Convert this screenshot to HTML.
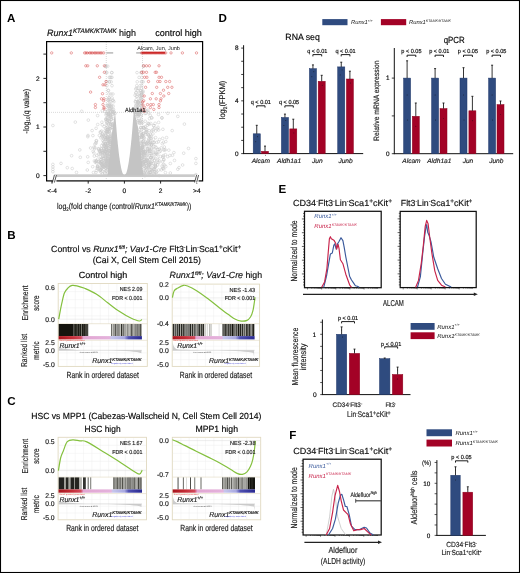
<!DOCTYPE html>
<html><head><meta charset="utf-8"><title>Figure</title>
<style>
html,body{margin:0;padding:0;background:#fff;}
body{width:520px;height:573px;overflow:hidden;}
svg{display:block;will-change:transform;}
text{font-family:"Liberation Sans", sans-serif;text-rendering:geometricPrecision;font-variant-ligatures:none;}
</style></head>
<body>
<svg width="520" height="573" viewBox="0 0 520 573" font-family="Liberation Sans, sans-serif">
<rect x="0" y="0" width="520" height="573" fill="#fff"/>
<text x="6.9" y="21.9" font-size="11.6" font-weight="bold" fill="#000" >A</text>
<text x="47.1" y="35.8" font-size="9.2" fill="#111" textLength="88.9" lengthAdjust="spacingAndGlyphs" stroke="#111" stroke-width="0.16"><tspan font-style="italic">Runx1</tspan><tspan dy="-3.2" font-size="6.4" font-style="italic">KTAMK/KTAMK</tspan><tspan dy="3.2"> high</tspan></text>
<text x="155.2" y="35.6" font-size="9.2" textLength="46.7" lengthAdjust="spacingAndGlyphs"  stroke="#111" stroke-width="0.16">control high</text>
<defs><circle id="gc" r="1.35" fill="none" stroke="#c6c6c6" stroke-width="0.5"/><circle id="rc" r="1.2" fill="none" stroke="#d65050" stroke-width="0.5"/></defs>
<clipPath id="clipA"><rect x="47.2" y="42.2" width="155" height="138"/></clipPath>
<g clip-path="url(#clipA)">
<line x1="106.30000000000001" y1="42" x2="106.30000000000001" y2="180" stroke="#b0b0b0" stroke-width="0.6" stroke-dasharray="0.8 1.2"/>
<line x1="142.5" y1="42" x2="142.5" y2="180" stroke="#b0b0b0" stroke-width="0.6" stroke-dasharray="0.8 1.2"/>
<line x1="47" y1="112.3714" x2="202" y2="112.3714" stroke="#b0b0b0" stroke-width="0.6" stroke-dasharray="0.8 1.2"/>
<use href="#gc" x="104.1" y="126.7"/>
<use href="#gc" x="110.0" y="146.8"/>
<use href="#gc" x="106.2" y="168.0"/>
<use href="#gc" x="141.1" y="132.7"/>
<use href="#gc" x="108.1" y="151.6"/>
<use href="#gc" x="96.9" y="155.3"/>
<use href="#gc" x="146.8" y="142.8"/>
<use href="#gc" x="138.2" y="120.5"/>
<use href="#gc" x="108.2" y="161.0"/>
<use href="#gc" x="158.6" y="122.4"/>
<use href="#gc" x="106.0" y="128.1"/>
<use href="#gc" x="112.4" y="124.5"/>
<use href="#gc" x="110.0" y="121.5"/>
<use href="#gc" x="108.2" y="137.3"/>
<use href="#gc" x="163.4" y="164.5"/>
<use href="#gc" x="101.7" y="163.7"/>
<use href="#gc" x="146.5" y="155.6"/>
<use href="#gc" x="163.8" y="169.0"/>
<use href="#gc" x="110.6" y="138.9"/>
<use href="#gc" x="106.2" y="162.7"/>
<use href="#gc" x="101.9" y="122.2"/>
<use href="#gc" x="96.1" y="128.3"/>
<use href="#gc" x="96.5" y="140.9"/>
<use href="#gc" x="161.2" y="147.9"/>
<use href="#gc" x="108.4" y="160.0"/>
<use href="#gc" x="182.6" y="165.0"/>
<use href="#gc" x="99.0" y="150.2"/>
<use href="#gc" x="147.9" y="172.3"/>
<use href="#gc" x="105.3" y="165.0"/>
<use href="#gc" x="111.3" y="111.3"/>
<use href="#gc" x="162.1" y="166.1"/>
<use href="#gc" x="145.5" y="174.2"/>
<use href="#gc" x="165.4" y="154.7"/>
<use href="#gc" x="143.2" y="127.2"/>
<use href="#gc" x="155.7" y="152.5"/>
<use href="#gc" x="105.7" y="118.9"/>
<use href="#gc" x="151.8" y="149.1"/>
<use href="#gc" x="144.3" y="127.8"/>
<use href="#gc" x="172.4" y="155.3"/>
<use href="#gc" x="105.3" y="144.0"/>
<use href="#gc" x="140.4" y="147.6"/>
<use href="#gc" x="107.7" y="162.3"/>
<use href="#gc" x="155.1" y="146.6"/>
<use href="#gc" x="87.8" y="136.7"/>
<use href="#gc" x="147.4" y="149.1"/>
<use href="#gc" x="157.4" y="128.9"/>
<use href="#gc" x="108.0" y="154.9"/>
<use href="#gc" x="163.6" y="160.1"/>
<use href="#gc" x="144.5" y="168.7"/>
<use href="#gc" x="146.2" y="160.3"/>
<use href="#gc" x="107.2" y="154.7"/>
<use href="#gc" x="106.2" y="146.9"/>
<use href="#gc" x="142.6" y="122.6"/>
<use href="#gc" x="148.6" y="173.0"/>
<use href="#gc" x="145.4" y="161.6"/>
<use href="#gc" x="165.4" y="149.8"/>
<use href="#gc" x="154.0" y="125.7"/>
<use href="#gc" x="147.9" y="150.9"/>
<use href="#gc" x="139.3" y="113.6"/>
<use href="#gc" x="143.7" y="133.5"/>
<use href="#gc" x="81.7" y="111.3"/>
<use href="#gc" x="110.8" y="119.5"/>
<use href="#gc" x="108.4" y="150.6"/>
<use href="#gc" x="139.3" y="137.1"/>
<use href="#gc" x="97.8" y="166.4"/>
<use href="#gc" x="137.3" y="113.5"/>
<use href="#gc" x="145.7" y="163.4"/>
<use href="#gc" x="152.9" y="133.9"/>
<use href="#gc" x="102.7" y="133.8"/>
<use href="#gc" x="157.5" y="149.6"/>
<use href="#gc" x="151.0" y="148.0"/>
<use href="#gc" x="109.8" y="138.7"/>
<use href="#gc" x="160.4" y="151.1"/>
<use href="#gc" x="104.3" y="166.6"/>
<use href="#gc" x="144.4" y="144.3"/>
<use href="#gc" x="151.0" y="138.4"/>
<use href="#gc" x="105.2" y="143.9"/>
<use href="#gc" x="101.0" y="167.5"/>
<use href="#gc" x="105.1" y="151.5"/>
<use href="#gc" x="148.7" y="164.0"/>
<use href="#gc" x="142.8" y="133.3"/>
<use href="#gc" x="140.7" y="116.4"/>
<use href="#gc" x="101.4" y="161.3"/>
<use href="#gc" x="106.8" y="158.6"/>
<use href="#gc" x="150.4" y="137.7"/>
<use href="#gc" x="94.9" y="144.1"/>
<use href="#gc" x="173.9" y="152.6"/>
<use href="#gc" x="108.0" y="167.4"/>
<use href="#gc" x="143.0" y="149.8"/>
<use href="#gc" x="141.3" y="114.8"/>
<use href="#gc" x="107.2" y="145.3"/>
<use href="#gc" x="149.3" y="148.2"/>
<use href="#gc" x="142.7" y="163.7"/>
<use href="#gc" x="103.2" y="152.3"/>
<use href="#gc" x="153.4" y="129.4"/>
<use href="#gc" x="151.9" y="118.0"/>
<use href="#gc" x="110.1" y="126.8"/>
<use href="#gc" x="158.7" y="130.0"/>
<use href="#gc" x="145.2" y="141.9"/>
<use href="#gc" x="104.3" y="146.4"/>
<use href="#gc" x="107.5" y="131.9"/>
<use href="#gc" x="145.9" y="110.6"/>
<use href="#gc" x="147.0" y="111.3"/>
<use href="#gc" x="100.8" y="169.9"/>
<use href="#gc" x="88.2" y="162.4"/>
<use href="#gc" x="139.1" y="114.2"/>
<use href="#gc" x="188.5" y="148.4"/>
<use href="#gc" x="104.2" y="165.2"/>
<use href="#gc" x="149.2" y="124.2"/>
<use href="#gc" x="109.1" y="145.6"/>
<use href="#gc" x="109.3" y="156.2"/>
<use href="#gc" x="104.7" y="150.0"/>
<use href="#gc" x="177.8" y="116.4"/>
<use href="#gc" x="107.2" y="119.9"/>
<use href="#gc" x="154.6" y="128.2"/>
<use href="#gc" x="142.4" y="147.1"/>
<use href="#gc" x="100.8" y="151.6"/>
<use href="#gc" x="106.8" y="149.1"/>
<use href="#gc" x="137.4" y="112.9"/>
<use href="#gc" x="108.5" y="124.1"/>
<use href="#gc" x="103.0" y="144.0"/>
<use href="#gc" x="158.7" y="162.5"/>
<use href="#gc" x="144.4" y="173.0"/>
<use href="#gc" x="150.1" y="151.0"/>
<use href="#gc" x="106.0" y="139.5"/>
<use href="#gc" x="96.3" y="140.6"/>
<use href="#gc" x="111.0" y="136.4"/>
<use href="#gc" x="107.1" y="136.4"/>
<use href="#gc" x="141.5" y="154.3"/>
<use href="#gc" x="67.3" y="167.7"/>
<use href="#gc" x="107.9" y="150.0"/>
<use href="#gc" x="149.1" y="163.7"/>
<use href="#gc" x="110.2" y="141.7"/>
<use href="#gc" x="106.3" y="151.6"/>
<use href="#gc" x="158.0" y="127.3"/>
<use href="#gc" x="146.7" y="160.0"/>
<use href="#gc" x="147.3" y="159.3"/>
<use href="#gc" x="103.8" y="164.3"/>
<use href="#gc" x="145.6" y="134.5"/>
<use href="#gc" x="156.7" y="171.8"/>
<use href="#gc" x="137.5" y="121.1"/>
<use href="#gc" x="145.9" y="170.1"/>
<use href="#gc" x="152.0" y="170.0"/>
<use href="#gc" x="170.3" y="163.5"/>
<use href="#gc" x="153.8" y="149.7"/>
<use href="#gc" x="142.3" y="142.0"/>
<use href="#gc" x="148.8" y="135.2"/>
<use href="#gc" x="148.9" y="112.8"/>
<use href="#gc" x="141.3" y="123.0"/>
<use href="#gc" x="143.1" y="151.0"/>
<use href="#gc" x="94.4" y="160.9"/>
<use href="#gc" x="111.1" y="124.7"/>
<use href="#gc" x="101.7" y="149.0"/>
<use href="#gc" x="107.9" y="162.9"/>
<use href="#gc" x="149.3" y="164.7"/>
<use href="#gc" x="101.9" y="135.9"/>
<use href="#gc" x="97.6" y="115.6"/>
<use href="#gc" x="158.7" y="170.0"/>
<use href="#gc" x="145.0" y="151.6"/>
<use href="#gc" x="170.3" y="173.0"/>
<use href="#gc" x="110.3" y="128.8"/>
<use href="#gc" x="108.9" y="131.9"/>
<use href="#gc" x="150.5" y="158.1"/>
<use href="#gc" x="88.3" y="120.1"/>
<use href="#gc" x="103.7" y="142.2"/>
<use href="#gc" x="139.9" y="132.9"/>
<use href="#gc" x="140.9" y="127.5"/>
<use href="#gc" x="155.5" y="165.6"/>
<use href="#gc" x="97.9" y="168.6"/>
<use href="#gc" x="105.9" y="168.7"/>
<use href="#gc" x="145.2" y="121.2"/>
<use href="#gc" x="141.2" y="150.0"/>
<use href="#gc" x="109.4" y="123.1"/>
<use href="#gc" x="105.3" y="160.7"/>
<use href="#gc" x="108.4" y="158.8"/>
<use href="#gc" x="147.7" y="141.8"/>
<use href="#gc" x="148.6" y="166.1"/>
<use href="#gc" x="102.6" y="134.4"/>
<use href="#gc" x="106.2" y="165.6"/>
<use href="#gc" x="142.7" y="152.3"/>
<use href="#gc" x="141.9" y="150.3"/>
<use href="#gc" x="112.2" y="111.2"/>
<use href="#gc" x="150.5" y="174.4"/>
<use href="#gc" x="101.9" y="152.4"/>
<use href="#gc" x="164.7" y="165.2"/>
<use href="#gc" x="103.6" y="166.1"/>
<use href="#gc" x="156.7" y="142.3"/>
<use href="#gc" x="163.2" y="168.3"/>
<use href="#gc" x="156.6" y="154.0"/>
<use href="#gc" x="92.7" y="166.7"/>
<use href="#gc" x="164.3" y="150.1"/>
<use href="#gc" x="179.0" y="167.6"/>
<use href="#gc" x="106.9" y="159.8"/>
<use href="#gc" x="148.0" y="171.1"/>
<use href="#gc" x="145.6" y="132.4"/>
<use href="#gc" x="102.2" y="136.8"/>
<use href="#gc" x="104.6" y="166.1"/>
<use href="#gc" x="142.9" y="149.8"/>
<use href="#gc" x="151.8" y="144.7"/>
<use href="#gc" x="143.3" y="147.1"/>
<use href="#gc" x="162.3" y="143.7"/>
<use href="#gc" x="79.8" y="149.9"/>
<use href="#gc" x="144.3" y="155.6"/>
<use href="#gc" x="140.8" y="127.6"/>
<use href="#gc" x="147.4" y="148.6"/>
<use href="#gc" x="149.7" y="169.8"/>
<use href="#gc" x="142.0" y="160.4"/>
<use href="#gc" x="146.7" y="131.9"/>
<use href="#gc" x="96.0" y="161.0"/>
<use href="#gc" x="102.4" y="167.5"/>
<use href="#gc" x="143.4" y="162.6"/>
<use href="#gc" x="143.4" y="149.5"/>
<use href="#gc" x="152.0" y="171.1"/>
<use href="#gc" x="149.9" y="144.6"/>
<use href="#gc" x="110.1" y="116.8"/>
<use href="#gc" x="155.7" y="131.0"/>
<use href="#gc" x="100.5" y="163.0"/>
<use href="#gc" x="141.4" y="129.1"/>
<use href="#gc" x="148.1" y="143.4"/>
<use href="#gc" x="110.0" y="142.6"/>
<use href="#gc" x="103.9" y="145.1"/>
<use href="#gc" x="151.6" y="163.2"/>
<use href="#gc" x="163.2" y="157.4"/>
<use href="#gc" x="99.9" y="151.5"/>
<use href="#gc" x="157.1" y="162.4"/>
<use href="#gc" x="145.7" y="161.4"/>
<use href="#gc" x="102.3" y="110.8"/>
<use href="#gc" x="108.3" y="142.8"/>
<use href="#gc" x="143.0" y="152.0"/>
<use href="#gc" x="149.1" y="130.7"/>
<use href="#gc" x="144.4" y="138.4"/>
<use href="#gc" x="110.3" y="124.0"/>
<use href="#gc" x="106.8" y="163.4"/>
<use href="#gc" x="139.2" y="138.0"/>
<use href="#gc" x="101.1" y="172.2"/>
<use href="#gc" x="99.9" y="170.8"/>
<use href="#gc" x="143.9" y="137.6"/>
<use href="#gc" x="105.9" y="147.3"/>
<use href="#gc" x="101.5" y="168.1"/>
<use href="#gc" x="109.2" y="121.1"/>
<use href="#gc" x="107.3" y="158.3"/>
<use href="#gc" x="136.5" y="110.9"/>
<use href="#gc" x="104.7" y="173.0"/>
<use href="#gc" x="107.1" y="155.9"/>
<use href="#gc" x="112.3" y="125.5"/>
<use href="#gc" x="157.5" y="154.4"/>
<use href="#gc" x="107.0" y="118.3"/>
<use href="#gc" x="143.8" y="159.1"/>
<use href="#gc" x="152.0" y="130.4"/>
<use href="#gc" x="101.0" y="161.5"/>
<use href="#gc" x="106.7" y="165.4"/>
<use href="#gc" x="106.0" y="114.9"/>
<use href="#gc" x="144.5" y="157.6"/>
<use href="#gc" x="102.6" y="164.8"/>
<use href="#gc" x="110.0" y="128.7"/>
<use href="#gc" x="149.0" y="139.3"/>
<use href="#gc" x="157.9" y="159.8"/>
<use href="#gc" x="104.3" y="141.5"/>
<use href="#gc" x="106.4" y="170.5"/>
<use href="#gc" x="109.0" y="150.9"/>
<use href="#gc" x="143.3" y="141.7"/>
<use href="#gc" x="106.7" y="149.0"/>
<use href="#gc" x="142.3" y="160.9"/>
<use href="#gc" x="106.3" y="138.5"/>
<use href="#gc" x="147.0" y="144.8"/>
<use href="#gc" x="149.5" y="118.6"/>
<use href="#gc" x="149.5" y="155.8"/>
<use href="#gc" x="106.4" y="161.4"/>
<use href="#gc" x="108.2" y="165.3"/>
<use href="#gc" x="105.4" y="165.8"/>
<use href="#gc" x="146.5" y="143.1"/>
<use href="#gc" x="104.0" y="169.7"/>
<use href="#gc" x="149.9" y="159.7"/>
<use href="#gc" x="143.1" y="162.0"/>
<use href="#gc" x="94.9" y="147.6"/>
<use href="#gc" x="147.8" y="134.4"/>
<use href="#gc" x="95.9" y="161.5"/>
<use href="#gc" x="148.5" y="166.3"/>
<use href="#gc" x="111.8" y="119.2"/>
<use href="#gc" x="149.4" y="174.8"/>
<use href="#gc" x="101.0" y="153.1"/>
<use href="#gc" x="139.7" y="112.0"/>
<use href="#gc" x="106.2" y="155.0"/>
<use href="#gc" x="155.2" y="165.1"/>
<use href="#gc" x="141.5" y="158.1"/>
<use href="#gc" x="100.9" y="159.7"/>
<use href="#gc" x="154.0" y="169.2"/>
<use href="#gc" x="105.2" y="138.9"/>
<use href="#gc" x="113.2" y="118.5"/>
<use href="#gc" x="150.4" y="142.3"/>
<use href="#gc" x="164.0" y="159.4"/>
<use href="#gc" x="153.9" y="142.8"/>
<use href="#gc" x="145.7" y="167.4"/>
<use href="#gc" x="98.7" y="149.0"/>
<use href="#gc" x="146.0" y="143.8"/>
<use href="#gc" x="149.7" y="172.4"/>
<use href="#gc" x="105.5" y="161.2"/>
<use href="#gc" x="109.8" y="150.9"/>
<use href="#gc" x="107.7" y="137.0"/>
<use href="#gc" x="144.8" y="111.2"/>
<use href="#gc" x="141.1" y="137.1"/>
<use href="#gc" x="144.8" y="153.3"/>
<use href="#gc" x="106.4" y="149.9"/>
<use href="#gc" x="105.5" y="158.2"/>
<use href="#gc" x="108.7" y="129.8"/>
<use href="#gc" x="148.4" y="162.3"/>
<use href="#gc" x="149.7" y="136.6"/>
<use href="#gc" x="151.1" y="157.4"/>
<use href="#gc" x="142.3" y="146.5"/>
<use href="#gc" x="104.2" y="166.9"/>
<use href="#gc" x="105.0" y="155.3"/>
<use href="#gc" x="141.7" y="151.6"/>
<use href="#gc" x="157.9" y="149.4"/>
<use href="#gc" x="150.7" y="123.5"/>
<use href="#gc" x="143.9" y="128.2"/>
<use href="#gc" x="104.5" y="145.5"/>
<use href="#gc" x="105.0" y="152.4"/>
<use href="#gc" x="107.9" y="140.8"/>
<use href="#gc" x="143.9" y="144.2"/>
<use href="#gc" x="105.2" y="173.1"/>
<use href="#gc" x="99.5" y="151.2"/>
<use href="#gc" x="72.2" y="168.5"/>
<use href="#gc" x="107.7" y="161.2"/>
<use href="#gc" x="109.1" y="113.4"/>
<use href="#gc" x="109.0" y="116.2"/>
<use href="#gc" x="156.1" y="147.5"/>
<use href="#gc" x="152.7" y="142.5"/>
<use href="#gc" x="151.3" y="145.0"/>
<use href="#gc" x="108.6" y="148.3"/>
<use href="#gc" x="140.6" y="148.6"/>
<use href="#gc" x="142.4" y="154.1"/>
<use href="#gc" x="159.2" y="149.2"/>
<use href="#gc" x="105.7" y="143.4"/>
<use href="#gc" x="148.0" y="123.3"/>
<use href="#gc" x="138.6" y="131.8"/>
<use href="#gc" x="100.2" y="132.2"/>
<use href="#gc" x="106.0" y="170.8"/>
<use href="#gc" x="106.1" y="119.5"/>
<use href="#gc" x="139.7" y="123.3"/>
<use href="#gc" x="105.8" y="132.3"/>
<use href="#gc" x="80.3" y="157.3"/>
<use href="#gc" x="99.3" y="162.0"/>
<use href="#gc" x="143.4" y="162.7"/>
<use href="#gc" x="109.9" y="146.8"/>
<use href="#gc" x="145.6" y="163.7"/>
<use href="#gc" x="106.3" y="124.7"/>
<use href="#gc" x="112.6" y="114.3"/>
<use href="#gc" x="102.1" y="165.9"/>
<use href="#gc" x="94.7" y="148.8"/>
<use href="#gc" x="108.3" y="160.2"/>
<use href="#gc" x="100.4" y="156.8"/>
<use href="#gc" x="148.4" y="140.7"/>
<use href="#gc" x="94.3" y="156.1"/>
<use href="#gc" x="106.3" y="131.5"/>
<use href="#gc" x="107.1" y="129.6"/>
<use href="#gc" x="143.0" y="136.8"/>
<use href="#gc" x="100.5" y="169.8"/>
<use href="#gc" x="162.9" y="129.3"/>
<use href="#gc" x="105.1" y="144.8"/>
<use href="#gc" x="140.0" y="111.9"/>
<use href="#gc" x="148.4" y="135.1"/>
<use href="#gc" x="87.7" y="156.8"/>
<use href="#gc" x="104.7" y="161.9"/>
<use href="#gc" x="149.3" y="165.3"/>
<use href="#gc" x="146.1" y="159.0"/>
<use href="#gc" x="76.5" y="172.4"/>
<use href="#gc" x="154.1" y="174.0"/>
<use href="#gc" x="107.6" y="155.8"/>
<use href="#gc" x="102.8" y="166.5"/>
<use href="#gc" x="141.8" y="156.3"/>
<use href="#gc" x="108.2" y="150.2"/>
<use href="#gc" x="139.7" y="120.4"/>
<use href="#gc" x="111.2" y="118.9"/>
<use href="#gc" x="112.1" y="127.4"/>
<use href="#gc" x="102.4" y="171.3"/>
<use href="#gc" x="165.4" y="172.6"/>
<use href="#gc" x="98.2" y="167.2"/>
<use href="#gc" x="145.0" y="113.5"/>
<use href="#gc" x="141.0" y="149.7"/>
<use href="#gc" x="104.6" y="153.8"/>
<use href="#gc" x="87.3" y="170.0"/>
<use href="#gc" x="146.2" y="163.4"/>
<use href="#gc" x="109.6" y="153.5"/>
<use href="#gc" x="106.1" y="121.1"/>
<use href="#gc" x="145.9" y="151.6"/>
<use href="#gc" x="147.3" y="160.1"/>
<use href="#gc" x="143.1" y="172.1"/>
<use href="#gc" x="145.8" y="132.6"/>
<use href="#gc" x="99.9" y="170.0"/>
<use href="#gc" x="108.2" y="123.9"/>
<use href="#gc" x="93.4" y="172.5"/>
<use href="#gc" x="153.5" y="125.5"/>
<use href="#gc" x="150.7" y="141.0"/>
<use href="#gc" x="162.7" y="138.3"/>
<use href="#gc" x="147.0" y="155.0"/>
<use href="#gc" x="155.3" y="167.0"/>
<use href="#gc" x="150.7" y="167.1"/>
<use href="#gc" x="162.7" y="161.7"/>
<use href="#gc" x="147.9" y="167.5"/>
<use href="#gc" x="109.9" y="144.5"/>
<use href="#gc" x="168.8" y="150.1"/>
<use href="#gc" x="101.9" y="164.1"/>
<use href="#gc" x="103.7" y="148.7"/>
<use href="#gc" x="148.1" y="149.1"/>
<use href="#gc" x="140.8" y="143.3"/>
<use href="#gc" x="177.8" y="169.2"/>
<use href="#gc" x="93.8" y="147.2"/>
<use href="#gc" x="149.9" y="153.4"/>
<use href="#gc" x="174.5" y="160.4"/>
<use href="#gc" x="144.7" y="159.4"/>
<use href="#gc" x="138.2" y="122.7"/>
<use href="#gc" x="105.8" y="147.8"/>
<use href="#gc" x="145.9" y="129.2"/>
<use href="#gc" x="160.5" y="156.5"/>
<use href="#gc" x="148.7" y="162.5"/>
<use href="#gc" x="107.1" y="166.4"/>
<use href="#gc" x="106.1" y="161.5"/>
<use href="#gc" x="142.7" y="135.6"/>
<use href="#gc" x="142.7" y="145.3"/>
<use href="#gc" x="104.9" y="151.8"/>
<use href="#gc" x="101.9" y="158.0"/>
<use href="#gc" x="150.9" y="163.1"/>
<use href="#gc" x="109.6" y="132.5"/>
<use href="#gc" x="138.0" y="116.4"/>
<use href="#gc" x="151.6" y="145.0"/>
<use href="#gc" x="141.3" y="119.5"/>
<use href="#gc" x="149.1" y="151.6"/>
<use href="#gc" x="141.2" y="142.9"/>
<use href="#gc" x="152.4" y="153.4"/>
<use href="#gc" x="107.6" y="159.3"/>
<use href="#gc" x="167.8" y="113.3"/>
<use href="#gc" x="98.4" y="148.7"/>
<use href="#gc" x="158.5" y="114.4"/>
<use href="#gc" x="106.6" y="131.9"/>
<use href="#gc" x="103.2" y="135.0"/>
<use href="#gc" x="144.9" y="175.6"/>
<use href="#gc" x="140.7" y="120.9"/>
<use href="#gc" x="104.0" y="158.4"/>
<use href="#gc" x="141.8" y="144.5"/>
<use href="#gc" x="95.3" y="162.3"/>
<use href="#gc" x="142.7" y="162.8"/>
<use href="#gc" x="100.6" y="163.5"/>
<use href="#gc" x="109.0" y="141.7"/>
<use href="#gc" x="101.1" y="159.6"/>
<use href="#gc" x="93.1" y="151.3"/>
<use href="#gc" x="100.9" y="137.8"/>
<use href="#gc" x="101.1" y="150.7"/>
<use href="#gc" x="151.5" y="174.7"/>
<use href="#gc" x="108.9" y="127.7"/>
<use href="#gc" x="183.7" y="153.2"/>
<use href="#gc" x="106.6" y="113.6"/>
<use href="#gc" x="146.1" y="113.3"/>
<use href="#gc" x="98.3" y="161.6"/>
<use href="#gc" x="107.1" y="160.4"/>
<use href="#gc" x="109.3" y="151.0"/>
<use href="#gc" x="153.1" y="163.4"/>
<use href="#gc" x="110.0" y="115.0"/>
<use href="#gc" x="155.6" y="137.6"/>
<use href="#gc" x="107.8" y="120.1"/>
<use href="#gc" x="159.6" y="139.5"/>
<use href="#gc" x="108.1" y="165.1"/>
<use href="#gc" x="109.6" y="142.8"/>
<use href="#gc" x="149.9" y="172.5"/>
<use href="#gc" x="142.8" y="154.0"/>
<use href="#gc" x="105.2" y="130.6"/>
<use href="#gc" x="143.7" y="127.8"/>
<use href="#gc" x="161.9" y="117.7"/>
<use href="#gc" x="109.9" y="141.8"/>
<use href="#gc" x="148.4" y="123.9"/>
<use href="#gc" x="93.9" y="152.9"/>
<use href="#gc" x="144.7" y="174.6"/>
<use href="#gc" x="154.3" y="168.0"/>
<use href="#gc" x="139.5" y="112.0"/>
<use href="#gc" x="142.1" y="135.0"/>
<use href="#gc" x="96.1" y="142.5"/>
<use href="#gc" x="159.6" y="161.0"/>
<use href="#gc" x="150.4" y="164.3"/>
<use href="#gc" x="172.2" y="130.6"/>
<use href="#gc" x="139.9" y="123.0"/>
<use href="#gc" x="102.3" y="174.1"/>
<use href="#gc" x="88.0" y="135.5"/>
<use href="#gc" x="97.3" y="168.4"/>
<use href="#gc" x="143.5" y="164.6"/>
<use href="#gc" x="165.8" y="141.6"/>
<use href="#gc" x="184.4" y="124.1"/>
<use href="#gc" x="150.5" y="157.5"/>
<use href="#gc" x="105.1" y="137.4"/>
<use href="#gc" x="154.5" y="160.1"/>
<use href="#gc" x="92.1" y="130.6"/>
<use href="#gc" x="155.1" y="123.3"/>
<use href="#gc" x="151.3" y="153.7"/>
<use href="#gc" x="110.1" y="140.5"/>
<use href="#gc" x="142.6" y="164.2"/>
<use href="#gc" x="103.3" y="158.6"/>
<use href="#gc" x="141.3" y="148.4"/>
<use href="#gc" x="151.4" y="155.6"/>
<use href="#gc" x="153.6" y="146.3"/>
<use href="#gc" x="143.5" y="141.0"/>
<use href="#gc" x="144.4" y="165.8"/>
<use href="#gc" x="153.6" y="139.2"/>
<use href="#gc" x="163.4" y="155.6"/>
<use href="#gc" x="146.2" y="168.9"/>
<use href="#gc" x="155.8" y="166.6"/>
<use href="#gc" x="107.4" y="130.9"/>
<use href="#gc" x="107.0" y="167.2"/>
<use href="#gc" x="109.4" y="154.1"/>
<use href="#gc" x="150.2" y="143.7"/>
<use href="#gc" x="61.0" y="163.4"/>
<use href="#gc" x="143.1" y="156.9"/>
<use href="#gc" x="157.5" y="158.2"/>
<use href="#gc" x="106.7" y="147.1"/>
<use href="#gc" x="101.6" y="131.0"/>
<use href="#gc" x="105.0" y="111.5"/>
<use href="#gc" x="158.4" y="141.8"/>
<use href="#gc" x="142.5" y="147.1"/>
<use href="#gc" x="156.2" y="153.2"/>
<use href="#gc" x="107.8" y="139.3"/>
<use href="#gc" x="100.3" y="162.7"/>
<use href="#gc" x="92.9" y="135.6"/>
<use href="#gc" x="145.5" y="126.6"/>
<use href="#gc" x="107.8" y="138.8"/>
<use href="#gc" x="140.6" y="141.7"/>
<use href="#gc" x="105.3" y="151.6"/>
<use href="#gc" x="167.7" y="156.6"/>
<use href="#gc" x="90.6" y="148.0"/>
<use href="#gc" x="153.3" y="152.5"/>
<use href="#gc" x="107.8" y="143.6"/>
<use href="#gc" x="104.3" y="151.2"/>
<use href="#gc" x="97.7" y="165.9"/>
<use href="#gc" x="97.3" y="166.9"/>
<use href="#gc" x="142.2" y="158.3"/>
<use href="#gc" x="143.9" y="161.7"/>
<use href="#gc" x="146.2" y="131.1"/>
<use href="#gc" x="110.5" y="138.2"/>
<use href="#gc" x="155.7" y="163.4"/>
<use href="#gc" x="71.6" y="155.7"/>
<use href="#gc" x="143.9" y="164.4"/>
<use href="#gc" x="147.8" y="160.7"/>
<use href="#gc" x="96.0" y="172.5"/>
<use href="#gc" x="149.2" y="167.8"/>
<use href="#gc" x="103.9" y="136.2"/>
<use href="#gc" x="107.3" y="164.0"/>
<use href="#gc" x="143.9" y="154.4"/>
<use href="#gc" x="100.6" y="162.5"/>
<use href="#gc" x="108.5" y="160.3"/>
<use href="#gc" x="145.2" y="152.3"/>
<use href="#gc" x="142.6" y="134.7"/>
<use href="#gc" x="102.6" y="152.6"/>
<use href="#gc" x="139.9" y="137.8"/>
<use href="#gc" x="110.1" y="137.3"/>
<use href="#gc" x="100.8" y="131.9"/>
<use href="#gc" x="154.0" y="157.0"/>
<use href="#gc" x="150.2" y="115.4"/>
<use href="#gc" x="143.9" y="152.2"/>
<use href="#gc" x="137.1" y="115.9"/>
<use href="#gc" x="110.4" y="146.3"/>
<use href="#gc" x="164.3" y="147.0"/>
<use href="#gc" x="107.7" y="129.1"/>
<use href="#gc" x="101.8" y="150.9"/>
<use href="#gc" x="106.2" y="145.5"/>
<use href="#gc" x="101.9" y="153.7"/>
<use href="#gc" x="142.6" y="136.1"/>
<use href="#gc" x="152.1" y="170.9"/>
<use href="#gc" x="100.2" y="153.9"/>
<use href="#gc" x="105.8" y="135.1"/>
<use href="#gc" x="149.9" y="150.0"/>
<use href="#gc" x="163.5" y="142.3"/>
<use href="#gc" x="112.1" y="127.4"/>
<use href="#gc" x="103.0" y="162.9"/>
<use href="#gc" x="150.4" y="134.4"/>
<use href="#gc" x="151.0" y="169.5"/>
<use href="#gc" x="108.0" y="117.9"/>
<use href="#gc" x="101.2" y="148.6"/>
<use href="#gc" x="148.9" y="138.5"/>
<use href="#gc" x="96.3" y="170.5"/>
<use href="#gc" x="141.8" y="134.9"/>
<use href="#gc" x="150.8" y="172.2"/>
<use href="#gc" x="109.1" y="131.2"/>
<use href="#gc" x="110.3" y="133.7"/>
<use href="#gc" x="107.5" y="164.5"/>
<use href="#gc" x="102.3" y="164.6"/>
<use href="#gc" x="108.4" y="152.5"/>
<use href="#gc" x="140.9" y="147.6"/>
<use href="#gc" x="142.4" y="157.2"/>
<use href="#gc" x="151.2" y="157.5"/>
<use href="#gc" x="152.0" y="161.2"/>
<use href="#gc" x="146.8" y="129.7"/>
<use href="#gc" x="162.5" y="168.2"/>
<use href="#gc" x="159.4" y="151.8"/>
<use href="#gc" x="147.9" y="110.1"/>
<use href="#gc" x="146.8" y="166.2"/>
<use href="#gc" x="142.1" y="146.9"/>
<use href="#gc" x="96.6" y="163.0"/>
<use href="#gc" x="95.8" y="143.5"/>
<use href="#gc" x="141.0" y="150.3"/>
<use href="#gc" x="108.8" y="161.5"/>
<use href="#gc" x="154.1" y="142.3"/>
<use href="#gc" x="142.0" y="148.0"/>
<use href="#gc" x="109.6" y="140.8"/>
<use href="#gc" x="146.7" y="162.3"/>
<use href="#gc" x="108.3" y="156.3"/>
<use href="#gc" x="154.7" y="171.8"/>
<use href="#gc" x="99.4" y="135.4"/>
<use href="#gc" x="106.7" y="146.2"/>
<use href="#gc" x="105.0" y="165.4"/>
<use href="#gc" x="141.8" y="153.0"/>
<use href="#gc" x="151.5" y="117.6"/>
<use href="#gc" x="162.7" y="156.8"/>
<use href="#gc" x="144.1" y="173.0"/>
<use href="#gc" x="155.0" y="169.5"/>
<use href="#gc" x="142.0" y="110.6"/>
<use href="#gc" x="163.7" y="149.7"/>
<use href="#gc" x="143.7" y="153.7"/>
<use href="#gc" x="110.7" y="144.4"/>
<use href="#gc" x="105.1" y="148.2"/>
<use href="#gc" x="106.9" y="161.6"/>
<use href="#gc" x="154.0" y="166.4"/>
<use href="#gc" x="101.9" y="161.6"/>
<use href="#gc" x="147.2" y="125.4"/>
<use href="#gc" x="101.6" y="145.7"/>
<use href="#gc" x="150.0" y="162.1"/>
<use href="#gc" x="104.3" y="161.9"/>
<use href="#gc" x="108.5" y="113.4"/>
<use href="#gc" x="156.2" y="172.9"/>
<use href="#gc" x="113.2" y="123.5"/>
<use href="#gc" x="102.9" y="140.6"/>
<use href="#gc" x="107.6" y="143.4"/>
<use href="#gc" x="111.0" y="135.2"/>
<use href="#gc" x="153.6" y="158.1"/>
<use href="#gc" x="110.2" y="136.4"/>
<use href="#gc" x="162.0" y="118.1"/>
<use href="#gc" x="103.9" y="158.2"/>
<use href="#gc" x="106.3" y="133.7"/>
<use href="#gc" x="97.8" y="159.1"/>
<use href="#gc" x="110.8" y="115.2"/>
<use href="#gc" x="111.0" y="117.1"/>
<use href="#gc" x="96.5" y="160.8"/>
<use href="#gc" x="103.5" y="155.9"/>
<use href="#gc" x="146.7" y="146.4"/>
<use href="#gc" x="107.7" y="137.6"/>
<use href="#gc" x="103.6" y="148.4"/>
<use href="#gc" x="105.7" y="152.0"/>
<use href="#gc" x="165.8" y="166.6"/>
<use href="#gc" x="104.9" y="156.5"/>
<use href="#gc" x="139.8" y="129.4"/>
<use href="#gc" x="151.5" y="131.7"/>
<use href="#gc" x="145.2" y="152.1"/>
<use href="#gc" x="153.6" y="169.5"/>
<use href="#gc" x="106.8" y="122.3"/>
<use href="#gc" x="143.0" y="138.5"/>
<use href="#gc" x="159.1" y="175.5"/>
<use href="#gc" x="103.8" y="139.1"/>
<use href="#gc" x="147.5" y="151.9"/>
<use href="#gc" x="144.0" y="166.2"/>
<use href="#gc" x="154.1" y="174.2"/>
<use href="#gc" x="107.4" y="111.5"/>
<use href="#gc" x="139.7" y="114.1"/>
<use href="#gc" x="110.5" y="115.9"/>
<use href="#gc" x="106.5" y="162.7"/>
<use href="#gc" x="98.5" y="154.2"/>
<use href="#gc" x="109.1" y="128.9"/>
<use href="#gc" x="107.6" y="158.5"/>
<use href="#gc" x="97.7" y="124.5"/>
<use href="#gc" x="107.2" y="166.2"/>
<use href="#gc" x="157.6" y="164.9"/>
<use href="#gc" x="112.3" y="123.7"/>
<use href="#gc" x="109.0" y="139.1"/>
<use href="#gc" x="104.7" y="137.5"/>
<use href="#gc" x="151.3" y="136.2"/>
<use href="#gc" x="141.2" y="136.8"/>
<use href="#gc" x="107.8" y="134.3"/>
<use href="#gc" x="161.3" y="169.9"/>
<use href="#gc" x="112.1" y="124.5"/>
<use href="#gc" x="107.4" y="153.3"/>
<use href="#gc" x="102.6" y="156.4"/>
<use href="#gc" x="105.7" y="144.5"/>
<use href="#gc" x="144.1" y="161.7"/>
<use href="#gc" x="104.4" y="153.6"/>
<use href="#gc" x="145.3" y="155.2"/>
<use href="#gc" x="141.5" y="153.1"/>
<use href="#gc" x="166.6" y="137.6"/>
<use href="#gc" x="149.7" y="151.4"/>
<use href="#gc" x="136.2" y="119.3"/>
<use href="#gc" x="155.6" y="172.3"/>
<use href="#gc" x="101.7" y="164.8"/>
<use href="#gc" x="169.8" y="155.5"/>
<use href="#gc" x="108.6" y="141.3"/>
<use href="#gc" x="107.4" y="127.6"/>
<use href="#gc" x="145.1" y="171.0"/>
<use href="#gc" x="146.1" y="167.5"/>
<use href="#gc" x="101.8" y="168.4"/>
<use href="#gc" x="102.2" y="124.8"/>
<use href="#gc" x="154.3" y="160.6"/>
<use href="#gc" x="138.9" y="115.5"/>
<use href="#gc" x="107.5" y="163.8"/>
<use href="#gc" x="107.0" y="138.0"/>
<use href="#gc" x="109.3" y="121.0"/>
<use href="#gc" x="149.7" y="142.2"/>
<use href="#gc" x="155.6" y="154.3"/>
<use href="#gc" x="75.3" y="122.1"/>
<use href="#gc" x="105.7" y="66.2"/>
<use href="#gc" x="105.7" y="66.2"/>
<use href="#gc" x="105.9" y="66.2"/>
<use href="#gc" x="107.7" y="66.2"/>
<use href="#gc" x="143.4" y="66.2"/>
<use href="#gc" x="143.7" y="66.2"/>
<use href="#gc" x="106.1" y="72.6"/>
<use href="#gc" x="111.9" y="72.6"/>
<use href="#gc" x="111.7" y="72.6"/>
<use href="#gc" x="106.9" y="72.6"/>
<use href="#gc" x="137.0" y="72.6"/>
<use href="#gc" x="140.9" y="72.6"/>
<use href="#gc" x="141.6" y="72.6"/>
<use href="#gc" x="111.0" y="77.4"/>
<use href="#gc" x="110.2" y="77.4"/>
<use href="#gc" x="109.3" y="77.4"/>
<use href="#gc" x="112.0" y="77.4"/>
<use href="#gc" x="141.8" y="77.4"/>
<use href="#gc" x="139.1" y="77.4"/>
<use href="#gc" x="106.9" y="81.8"/>
<use href="#gc" x="109.4" y="81.8"/>
<use href="#gc" x="111.2" y="81.8"/>
<use href="#gc" x="109.5" y="81.8"/>
<use href="#gc" x="142.0" y="81.8"/>
<use href="#gc" x="141.3" y="81.8"/>
<use href="#gc" x="137.2" y="81.8"/>
<use href="#gc" x="143.2" y="81.8"/>
<use href="#gc" x="106.9" y="85.7"/>
<use href="#gc" x="112.0" y="85.7"/>
<use href="#gc" x="141.8" y="85.7"/>
<use href="#gc" x="140.1" y="85.7"/>
<use href="#gc" x="136.8" y="85.7"/>
<use href="#gc" x="108.4" y="90.5"/>
<use href="#gc" x="108.2" y="90.5"/>
<use href="#gc" x="140.8" y="90.5"/>
<use href="#gc" x="140.0" y="90.5"/>
<use href="#gc" x="112.9" y="94.0"/>
<use href="#gc" x="108.9" y="94.0"/>
<use href="#gc" x="111.0" y="94.0"/>
<use href="#gc" x="141.5" y="94.0"/>
<use href="#gc" x="139.3" y="94.0"/>
<use href="#gc" x="108.9" y="97.8"/>
<use href="#gc" x="109.3" y="97.8"/>
<use href="#gc" x="142.0" y="97.8"/>
<use href="#gc" x="140.9" y="97.8"/>
<use href="#gc" x="110.7" y="101.7"/>
<use href="#gc" x="113.9" y="101.7"/>
<use href="#gc" x="109.5" y="101.7"/>
<use href="#gc" x="136.0" y="101.7"/>
<use href="#gc" x="140.9" y="101.7"/>
<use href="#gc" x="137.5" y="101.7"/>
<use href="#gc" x="135.3" y="101.7"/>
<use href="#gc" x="108.2" y="105.1"/>
<use href="#gc" x="109.7" y="105.1"/>
<use href="#gc" x="107.1" y="105.1"/>
<use href="#gc" x="109.9" y="105.1"/>
<use href="#gc" x="140.2" y="105.1"/>
<use href="#gc" x="141.7" y="105.1"/>
<use href="#gc" x="108.0" y="108.5"/>
<use href="#gc" x="109.9" y="108.5"/>
<use href="#gc" x="109.3" y="108.5"/>
<use href="#gc" x="136.7" y="108.5"/>
<use href="#gc" x="136.9" y="108.5"/>
<use href="#gc" x="141.5" y="108.5"/>
<use href="#gc" x="137.2" y="108.5"/>
<use href="#gc" x="114.2" y="111.9"/>
<use href="#gc" x="108.4" y="111.9"/>
<use href="#gc" x="110.5" y="111.9"/>
<use href="#gc" x="136.9" y="111.9"/>
<use href="#gc" x="135.0" y="111.9"/>
<use href="#gc" x="138.4" y="111.9"/>
<use href="#gc" x="137.1" y="111.9"/>
<use href="#gc" x="112.4" y="114.4"/>
<use href="#gc" x="107.8" y="114.4"/>
<use href="#gc" x="138.1" y="114.4"/>
<use href="#gc" x="136.1" y="114.4"/>
<use href="#gc" x="138.4" y="106.2"/>
<use href="#gc" x="139.9" y="103.7"/>
<use href="#gc" x="141.1" y="105.8"/>
<use href="#gc" x="140.3" y="98.5"/>
<use href="#gc" x="137.5" y="105.3"/>
<use href="#gc" x="142.9" y="91.0"/>
<use href="#gc" x="141.5" y="94.1"/>
<use href="#gc" x="136.4" y="88.2"/>
<use href="#gc" x="137.2" y="106.5"/>
<use href="#gc" x="136.2" y="105.6"/>
<use href="#gc" x="140.5" y="112.3"/>
<use href="#gc" x="139.5" y="100.6"/>
<use href="#gc" x="135.9" y="92.8"/>
<use href="#gc" x="138.1" y="103.1"/>
<use href="#gc" x="136.8" y="104.6"/>
<use href="#gc" x="135.8" y="89.1"/>
<use href="#gc" x="141.0" y="103.1"/>
<use href="#gc" x="135.1" y="95.2"/>
<use href="#gc" x="135.1" y="112.3"/>
<use href="#gc" x="137.9" y="102.7"/>
<use href="#gc" x="143.0" y="92.2"/>
<use href="#gc" x="136.3" y="99.8"/>
<use href="#gc" x="140.7" y="94.9"/>
<use href="#gc" x="138.1" y="90.7"/>
<use href="#gc" x="141.2" y="98.8"/>
<use href="#gc" x="138.6" y="102.0"/>
<use href="#gc" x="136.6" y="96.4"/>
<use href="#gc" x="139.6" y="95.6"/>
<use href="#gc" x="136.1" y="92.8"/>
<use href="#gc" x="141.3" y="92.3"/>
<use href="#gc" x="141.9" y="95.2"/>
<use href="#gc" x="138.1" y="101.6"/>
<use href="#gc" x="139.3" y="107.7"/>
<use href="#gc" x="137.3" y="114.7"/>
<use href="#gc" x="138.0" y="88.1"/>
<use href="#gc" x="137.2" y="110.1"/>
<use href="#gc" x="141.7" y="95.6"/>
<use href="#gc" x="138.0" y="111.5"/>
<use href="#gc" x="142.1" y="92.5"/>
<use href="#gc" x="137.2" y="96.5"/>
<use href="#gc" x="136.9" y="112.6"/>
<use href="#gc" x="141.4" y="109.4"/>
<use href="#gc" x="134.4" y="112.2"/>
<use href="#gc" x="141.6" y="88.3"/>
<use href="#gc" x="138.3" y="101.8"/>
<use href="#gc" x="109.1" y="99.4"/>
<use href="#gc" x="112.1" y="109.2"/>
<use href="#gc" x="112.1" y="97.9"/>
<use href="#gc" x="115.1" y="113.4"/>
<use href="#gc" x="113.1" y="100.4"/>
<use href="#gc" x="111.6" y="105.0"/>
<use href="#gc" x="108.2" y="105.5"/>
<use href="#gc" x="113.5" y="109.6"/>
<use href="#gc" x="111.4" y="107.5"/>
<use href="#gc" x="110.4" y="108.8"/>
<use href="#gc" x="112.9" y="106.1"/>
<use href="#gc" x="112.8" y="112.7"/>
<use href="#gc" x="108.4" y="100.4"/>
<use href="#gc" x="112.9" y="111.4"/>
<use href="#gc" x="111.1" y="106.3"/>
<use href="#gc" x="113.6" y="113.0"/>
<use href="#gc" x="108.7" y="106.5"/>
<use href="#gc" x="112.7" y="100.4"/>
<use href="#gc" x="110.1" y="111.9"/>
<use href="#gc" x="108.6" y="114.8"/>
<use href="#gc" x="108.0" y="100.1"/>
<use href="#gc" x="108.4" y="114.1"/>
<use href="#gc" x="52.9" y="171.7"/>
<use href="#gc" x="52.9" y="169.3"/>
<use href="#gc" x="52.9" y="166.9"/>
<use href="#gc" x="52.9" y="164.4"/>
<use href="#gc" x="52.9" y="125.5"/>
<use href="#gc" x="195.9" y="174.6"/>
<use href="#gc" x="195.9" y="163.4"/>
<use href="#gc" x="195.9" y="158.6"/>
<rect x="54" y="174.29999999999998" width="143" height="2.7" fill="#cacaca" />
<path d="M107.2,175.6 L107.5,173.2 L107.7,170.7 L108.0,168.3 L108.3,165.9 L108.6,163.4 L108.8,161.0 L109.1,158.6 L109.4,156.2 L109.6,153.7 L109.9,151.3 L110.2,148.9 L110.5,146.4 L110.7,144.0 L111.0,141.6 L111.3,139.1 L111.5,136.7 L111.8,134.3 L112.1,131.9 L112.4,129.4 L112.6,127.0 L113.2,124.6 L113.6,122.1 L114.0,119.7 L114.3,117.3 L114.5,114.8 L114.7,112.4 L114.8,110.0 L114.6,107.6 L114.5,105.1 L114.4,102.7 L114.2,100.3 L114.1,97.8 L114.1,97.8 L114.3,100.3 L114.4,102.7 L114.6,105.1 L114.8,107.6 L114.9,110.0 L115.1,112.4 L115.3,114.8 L115.5,117.3 L115.7,119.7 L115.9,122.1 L116.1,124.6 L116.3,127.0 L116.5,129.4 L116.7,131.9 L116.9,134.3 L117.1,136.7 L117.3,139.1 L117.6,141.6 L117.8,144.0 L118.1,146.4 L118.4,148.9 L118.6,151.3 L118.9,153.7 L119.2,156.2 L119.6,158.6 L119.9,161.0 L120.3,163.4 L120.8,165.9 L121.2,168.3 L121.8,170.7 L122.6,173.2 L124.4,175.6 Z" fill="#c4c4c4"/>
<path d="M143.4,175.6 L143.1,173.2 L142.9,170.7 L142.6,168.3 L142.3,165.9 L142.0,163.4 L141.8,161.0 L141.5,158.6 L141.2,156.2 L141.0,153.7 L140.7,151.3 L140.4,148.9 L140.1,146.4 L139.9,144.0 L139.6,141.6 L139.3,139.1 L139.1,136.7 L138.8,134.3 L138.5,131.9 L138.2,129.4 L138.0,127.0 L137.3,124.6 L136.7,122.1 L136.2,119.7 L135.7,117.3 L135.3,114.8 L135.0,112.4 L134.8,110.0 L134.6,107.6 L134.5,105.1 L134.5,102.7 L134.6,100.3 L134.7,97.8 L134.7,97.8 L134.5,100.3 L134.4,102.7 L134.2,105.1 L134.0,107.6 L133.9,110.0 L133.7,112.4 L133.5,114.8 L133.3,117.3 L133.1,119.7 L132.9,122.1 L132.7,124.6 L132.5,127.0 L132.3,129.4 L132.1,131.9 L131.9,134.3 L131.7,136.7 L131.5,139.1 L131.2,141.6 L131.0,144.0 L130.7,146.4 L130.4,148.9 L130.2,151.3 L129.9,153.7 L129.6,156.2 L129.2,158.6 L128.9,161.0 L128.5,163.4 L128.0,165.9 L127.6,168.3 L127.0,170.7 L126.2,173.2 L124.4,175.6 Z" fill="#c4c4c4"/>
<line x1="106.30000000000001" y1="52.9" x2="113.178" y2="52.9" stroke="#c2c2c2" stroke-width="1.6" />
<line x1="136.16500000000002" y1="52.9" x2="141.595" y2="52.9" stroke="#c2c2c2" stroke-width="1.6" />
<use href="#rc" x="51.7" y="52.9"/>
<use href="#rc" x="71.3" y="52.9"/>
<use href="#rc" x="103.7" y="52.9"/>
<use href="#rc" x="85.8" y="65.8"/>
<use href="#rc" x="87.7" y="65.8"/>
<use href="#rc" x="97.3" y="65.8"/>
<use href="#rc" x="104.4" y="65.8"/>
<use href="#rc" x="104.4" y="72.3"/>
<use href="#rc" x="99.6" y="77.3"/>
<use href="#rc" x="106" y="81.5"/>
<use href="#rc" x="103" y="84.8"/>
<use href="#rc" x="105" y="84.8"/>
<use href="#rc" x="90.6" y="92.1"/>
<use href="#rc" x="102.5" y="93.7"/>
<use href="#rc" x="104" y="98.8"/>
<use href="#rc" x="101.5" y="98.8"/>
<use href="#rc" x="103.7" y="100.8"/>
<use href="#rc" x="95.4" y="104.6"/>
<use href="#rc" x="103" y="104.6"/>
<use href="#rc" x="95.4" y="107.5"/>
<use href="#rc" x="104" y="107.5"/>
<use href="#rc" x="104" y="108.8"/>
<use href="#rc" x="171.0" y="52.9"/>
<use href="#rc" x="182.4" y="52.9"/>
<use href="#rc" x="196.5" y="52.9"/>
<use href="#rc" x="143.7" y="65.8"/>
<use href="#rc" x="146.5" y="65.8"/>
<use href="#rc" x="149.4" y="65.8"/>
<use href="#rc" x="159" y="65.8"/>
<use href="#rc" x="141.7" y="72.3"/>
<use href="#rc" x="143.5" y="72.3"/>
<use href="#rc" x="146.5" y="72.3"/>
<use href="#rc" x="155.2" y="72.3"/>
<use href="#rc" x="156.5" y="72.3"/>
<use href="#rc" x="144.6" y="77.3"/>
<use href="#rc" x="146.9" y="77.3"/>
<use href="#rc" x="159" y="77.3"/>
<use href="#rc" x="161.5" y="77.3"/>
<use href="#rc" x="148.5" y="81.5"/>
<use href="#rc" x="157.7" y="81.5"/>
<use href="#rc" x="160" y="81.5"/>
<use href="#rc" x="165.8" y="81.5"/>
<use href="#rc" x="169.6" y="81.5"/>
<use href="#rc" x="145.6" y="87.3"/>
<use href="#rc" x="156.7" y="87.3"/>
<use href="#rc" x="167.7" y="87.3"/>
<use href="#rc" x="171.9" y="87.3"/>
<use href="#rc" x="163.5" y="90.2"/>
<use href="#rc" x="152.3" y="93.5"/>
<use href="#rc" x="160.4" y="93.5"/>
<use href="#rc" x="168.7" y="93.5"/>
<use href="#rc" x="144.2" y="96"/>
<use href="#rc" x="163.8" y="96"/>
<use href="#rc" x="150.4" y="98.8"/>
<use href="#rc" x="156.2" y="98.8"/>
<use href="#rc" x="161" y="98.8"/>
<use href="#rc" x="143.7" y="100.8"/>
<use href="#rc" x="160.4" y="100.8"/>
<use href="#rc" x="147.5" y="104.6"/>
<use href="#rc" x="150.8" y="104.6"/>
<use href="#rc" x="153.3" y="104.6"/>
<use href="#rc" x="159" y="104.6"/>
<use href="#rc" x="144.6" y="107.5"/>
<use href="#rc" x="150.4" y="107.5"/>
<use href="#rc" x="159" y="107.5"/>
<use href="#rc" x="153.8" y="109.4"/>
<use href="#rc" x="144.2" y="111.3"/>
<use href="#rc" x="142.5" y="109"/>
<use href="#rc" x="143" y="105"/>
<use href="#rc" x="142.6" y="102"/>
<use href="#rc" x="84.6" y="52.9"/>
<use href="#rc" x="85.9" y="52.9"/>
<use href="#rc" x="87.4" y="52.9"/>
<use href="#rc" x="89.6" y="52.9"/>
<use href="#rc" x="91.0" y="52.9"/>
<use href="#rc" x="92.4" y="52.9"/>
<use href="#rc" x="94.3" y="52.9"/>
<use href="#rc" x="95.6" y="52.9"/>
<use href="#rc" x="97.1" y="52.9"/>
<use href="#rc" x="98.9" y="52.9"/>
<use href="#rc" x="100.4" y="52.9"/>
<use href="#rc" x="101.8" y="52.9"/>
<use href="#rc" x="141.5" y="52.9"/>
<use href="#rc" x="142.7" y="52.9"/>
<use href="#rc" x="143.8" y="52.9"/>
<use href="#rc" x="144.9" y="52.9"/>
<use href="#rc" x="146.1" y="52.9"/>
<use href="#rc" x="147.2" y="52.9"/>
<use href="#rc" x="148.4" y="52.9"/>
<use href="#rc" x="149.6" y="52.9"/>
<use href="#rc" x="150.7" y="52.9"/>
<use href="#rc" x="151.8" y="52.9"/>
<use href="#rc" x="153.0" y="52.9"/>
<use href="#rc" x="154.2" y="52.9"/>
<use href="#rc" x="155.3" y="52.9"/>
<use href="#rc" x="156.4" y="52.9"/>
<use href="#rc" x="157.6" y="52.9"/>
<use href="#rc" x="158.8" y="52.9"/>
<use href="#rc" x="159.9" y="52.9"/>
<use href="#rc" x="161.1" y="52.9"/>
<use href="#rc" x="162.2" y="52.9"/>
<use href="#rc" x="163.3" y="52.9"/>
<use href="#rc" x="164.5" y="52.9"/>
<use href="#rc" x="165.7" y="52.9"/>
<line x1="85.5" y1="52.9" x2="101.5" y2="52.9" stroke="#d04040" stroke-width="0.5" />
<line x1="141.5" y1="52.9" x2="165.0" y2="52.9" stroke="#c40c0c" stroke-width="1.1" />
</g>
<text x="137.2" y="50.3" font-size="5.6" fill="#222" textLength="42.8" lengthAdjust="spacingAndGlyphs" >Alcam, Jun, Junb</text>
<text x="125.0" y="112.2" font-size="6.0" fill="#222" textLength="20.5" lengthAdjust="spacingAndGlyphs"  stroke="#222" stroke-width="0.16">Aldh1a1</text>
<rect x="46.6" y="41.6" width="156.0" height="139.3" fill="none" stroke="#000" stroke-width="1.2"/>
<line x1="43.4" y1="175.6" x2="46.6" y2="175.6" stroke="#111" stroke-width="0.9" />
<line x1="43.4" y1="151.29999999999998" x2="46.6" y2="151.29999999999998" stroke="#111" stroke-width="0.9" />
<line x1="43.4" y1="127.0" x2="46.6" y2="127.0" stroke="#111" stroke-width="0.9" />
<line x1="43.4" y1="102.69999999999999" x2="46.6" y2="102.69999999999999" stroke="#111" stroke-width="0.9" />
<line x1="43.4" y1="78.39999999999999" x2="46.6" y2="78.39999999999999" stroke="#111" stroke-width="0.9" />
<line x1="43.4" y1="54.099999999999994" x2="46.6" y2="54.099999999999994" stroke="#111" stroke-width="0.9" />
<text x="39.6" y="177.9" font-size="6.6" text-anchor="end"  stroke="#111" stroke-width="0.16">0</text>
<text x="39.6" y="129.3" font-size="6.6" text-anchor="end"  stroke="#111" stroke-width="0.16">1</text>
<text x="39.6" y="80.69999999999999" font-size="6.6" text-anchor="end"  stroke="#111" stroke-width="0.16">2</text>
<line x1="52.0" y1="181" x2="52.0" y2="183.6" stroke="#111" stroke-width="0.9" />
<line x1="88.2" y1="181" x2="88.2" y2="183.6" stroke="#111" stroke-width="0.9" />
<line x1="124.4" y1="181" x2="124.4" y2="183.6" stroke="#111" stroke-width="0.9" />
<line x1="160.60000000000002" y1="181" x2="160.60000000000002" y2="183.6" stroke="#111" stroke-width="0.9" />
<line x1="196.8" y1="181" x2="196.8" y2="183.6" stroke="#111" stroke-width="0.9" />
<text x="52.0" y="193.3" font-size="6.6" text-anchor="middle"  stroke="#111" stroke-width="0.16">&lt;-4</text>
<text x="88.2" y="193.3" font-size="6.6" text-anchor="middle"  stroke="#111" stroke-width="0.16">-2</text>
<text x="124.4" y="193.3" font-size="6.6" text-anchor="middle"  stroke="#111" stroke-width="0.16">0</text>
<text x="160.60000000000002" y="193.3" font-size="6.6" text-anchor="middle"  stroke="#111" stroke-width="0.16">2</text>
<text x="196.8" y="193.3" font-size="6.6" text-anchor="middle"  stroke="#111" stroke-width="0.16">&gt;4</text>
<rect x="52.82000000000001" y="175" width="3.6" height="8" fill="#fff" />
<line x1="52.42" y1="182.5" x2="54.42" y2="175" stroke="#111" stroke-width="0.7" />
<line x1="54.42" y1="182.5" x2="56.42" y2="175" stroke="#111" stroke-width="0.7" />
<rect x="195.0" y="175" width="3.6" height="8" fill="#fff" />
<line x1="194.60000000000002" y1="182.5" x2="196.60000000000002" y2="175" stroke="#111" stroke-width="0.7" />
<line x1="196.60000000000002" y1="182.5" x2="198.60000000000002" y2="175" stroke="#111" stroke-width="0.7" />
<text x="28.6" y="111.1" font-size="8.2" text-anchor="middle" transform="rotate(-90 28.6 111.1)" fill="#222" textLength="44.6" lengthAdjust="spacingAndGlyphs" stroke="#222" stroke-width="0.16">-log<tspan dy="1.8" font-size="5.2">10</tspan><tspan dy="-1.8">(q value)</tspan></text>
<text x="124.2" y="208.8" font-size="8.4" text-anchor="middle" fill="#222" textLength="134.5" lengthAdjust="spacingAndGlyphs" stroke="#222" stroke-width="0.16">log<tspan dy="1.8" font-size="5.2">2</tspan><tspan dy="-1.8">(fold change (control/</tspan><tspan font-style="italic">Runx1</tspan><tspan dy="-3" font-size="5.4" font-style="italic">KTAMK/KTAMK</tspan><tspan dy="3">))</tspan></text>
<text x="218.6" y="22.3" font-size="11.6" font-weight="bold" fill="#000" >D</text>
<rect x="322.3" y="19.1" width="25.2" height="6.1" fill="#2f4b7f" />
<text x="351" y="24.4" font-size="5.8" font-style="italic" fill="#111">Runx1<tspan dy="-2.2" font-size="3.6">+/+</tspan></text>
<rect x="380.9" y="19.1" width="25.3" height="6.1" fill="#a30226" />
<text x="409" y="24.4" font-size="5.8" font-style="italic" fill="#111">Runx1<tspan dy="-2.2" font-size="3.6">KTAMK/KTAMK</tspan></text>
<text x="302.6" y="39.6" font-size="9.0" text-anchor="middle" textLength="34.5" lengthAdjust="spacingAndGlyphs"  stroke="#111" stroke-width="0.16">RNA seq</text>
<line x1="243.6" y1="45.2" x2="243.6" y2="154.0" stroke="#111" stroke-width="1.0" />
<line x1="243.1" y1="153.6" x2="363.2" y2="153.6" stroke="#111" stroke-width="1.0" />
<line x1="241.2" y1="153.6" x2="243.6" y2="153.6" stroke="#111" stroke-width="0.8" />
<line x1="241.2" y1="140.41" x2="243.6" y2="140.41" stroke="#111" stroke-width="0.8" />
<line x1="241.2" y1="127.22" x2="243.6" y2="127.22" stroke="#111" stroke-width="0.8" />
<line x1="241.2" y1="114.03" x2="243.6" y2="114.03" stroke="#111" stroke-width="0.8" />
<line x1="241.2" y1="100.84" x2="243.6" y2="100.84" stroke="#111" stroke-width="0.8" />
<line x1="241.2" y1="87.64999999999999" x2="243.6" y2="87.64999999999999" stroke="#111" stroke-width="0.8" />
<line x1="241.2" y1="74.46" x2="243.6" y2="74.46" stroke="#111" stroke-width="0.8" />
<line x1="241.2" y1="61.269999999999996" x2="243.6" y2="61.269999999999996" stroke="#111" stroke-width="0.8" />
<line x1="241.2" y1="48.08" x2="243.6" y2="48.08" stroke="#111" stroke-width="0.8" />
<text x="238.6" y="155.9" font-size="6.4" text-anchor="end"  stroke="#111" stroke-width="0.16">0</text>
<text x="238.6" y="103.14" font-size="6.4" text-anchor="end"  stroke="#111" stroke-width="0.16">4</text>
<text x="238.6" y="50.379999999999995" font-size="6.4" text-anchor="end"  stroke="#111" stroke-width="0.16">8</text>
<rect x="253.2" y="133.8" width="7.1" height="19.799999999999983" fill="#2f4b7f" stroke="#1d3569" stroke-width="0.5"/>
<line x1="256.75" y1="125.3" x2="256.75" y2="133.8" stroke="#111" stroke-width="0.85" />
<line x1="255.75" y1="125.3" x2="257.75" y2="125.3" stroke="#111" stroke-width="0.85" />
<circle cx="257.6" cy="136.8" r="0.45" fill="#111"/>
<circle cx="255.8" cy="141.8" r="0.45" fill="#111"/>
<rect x="261.5" y="151.3" width="7.0" height="2.299999999999983" fill="#a30226" stroke="#8c001c" stroke-width="0.5"/>
<line x1="265.0" y1="146.1" x2="265.0" y2="151.3" stroke="#111" stroke-width="0.85" />
<line x1="264.0" y1="146.1" x2="266.0" y2="146.1" stroke="#111" stroke-width="0.85" />
<circle cx="265.5" cy="155.3" r="0.45" fill="#111"/>
<path d="M256.7,107.6 L256.7,105.8 L265.0,105.8 L265.0,107.6" fill="none" stroke="#111" stroke-width="0.95"/>
<text x="260.85" y="103.89999999999999" font-size="5.8" text-anchor="middle" textLength="20.2" lengthAdjust="spacingAndGlyphs"  stroke="#111" stroke-width="0.16">q &lt; 0.01</text>
<text x="260.85" y="163.2" font-size="6.6" text-anchor="middle" font-style="italic" fill="#222"  stroke="#222" stroke-width="0.16">Alcam</text>
<rect x="281.4" y="117.5" width="7.1" height="36.099999999999994" fill="#2f4b7f" stroke="#1d3569" stroke-width="0.5"/>
<line x1="284.95" y1="114.1" x2="284.95" y2="117.5" stroke="#111" stroke-width="0.85" />
<line x1="283.95" y1="114.1" x2="285.95" y2="114.1" stroke="#111" stroke-width="0.85" />
<circle cx="285.8" cy="120.5" r="0.45" fill="#111"/>
<circle cx="283.9" cy="125.5" r="0.45" fill="#111"/>
<rect x="289.8" y="128.9" width="7.0" height="24.69999999999999" fill="#a30226" stroke="#8c001c" stroke-width="0.5"/>
<line x1="293.3" y1="119.2" x2="293.3" y2="128.9" stroke="#111" stroke-width="0.85" />
<line x1="292.3" y1="119.2" x2="294.3" y2="119.2" stroke="#111" stroke-width="0.85" />
<circle cx="293.8" cy="132.9" r="0.45" fill="#111"/>
<path d="M284.9,107.6 L284.9,105.8 L293.3,105.8 L293.3,107.6" fill="none" stroke="#111" stroke-width="0.95"/>
<text x="289.1" y="103.89999999999999" font-size="5.8" text-anchor="middle" textLength="20.2" lengthAdjust="spacingAndGlyphs"  stroke="#111" stroke-width="0.16">q &lt; 0.05</text>
<text x="289.1" y="163.2" font-size="6.6" text-anchor="middle" font-style="italic" fill="#222"  stroke="#222" stroke-width="0.16">Aldh1a1</text>
<rect x="309.4" y="68.7" width="7.1" height="84.89999999999999" fill="#2f4b7f" stroke="#1d3569" stroke-width="0.5"/>
<line x1="312.95" y1="64.9" x2="312.95" y2="68.7" stroke="#111" stroke-width="0.85" />
<line x1="311.95" y1="64.9" x2="313.95" y2="64.9" stroke="#111" stroke-width="0.85" />
<circle cx="313.8" cy="71.7" r="0.45" fill="#111"/>
<circle cx="311.9" cy="76.7" r="0.45" fill="#111"/>
<rect x="318.2" y="81.3" width="7.0" height="72.3" fill="#a30226" stroke="#8c001c" stroke-width="0.5"/>
<line x1="321.7" y1="75.3" x2="321.7" y2="81.3" stroke="#111" stroke-width="0.85" />
<line x1="320.7" y1="75.3" x2="322.7" y2="75.3" stroke="#111" stroke-width="0.85" />
<circle cx="322.2" cy="85.3" r="0.45" fill="#111"/>
<path d="M312.9,56.4 L312.9,54.6 L321.7,54.6 L321.7,56.4" fill="none" stroke="#111" stroke-width="0.95"/>
<text x="317.29999999999995" y="52.7" font-size="5.8" text-anchor="middle" textLength="20.2" lengthAdjust="spacingAndGlyphs"  stroke="#111" stroke-width="0.16">q &lt; 0.01</text>
<text x="317.29999999999995" y="163.2" font-size="6.6" text-anchor="middle" font-style="italic" fill="#222"  stroke="#222" stroke-width="0.16">Jun</text>
<rect x="337.7" y="66.9" width="7.1" height="86.69999999999999" fill="#2f4b7f" stroke="#1d3569" stroke-width="0.5"/>
<line x1="341.25" y1="62.2" x2="341.25" y2="66.9" stroke="#111" stroke-width="0.85" />
<line x1="340.25" y1="62.2" x2="342.25" y2="62.2" stroke="#111" stroke-width="0.85" />
<circle cx="342.1" cy="69.9" r="0.45" fill="#111"/>
<circle cx="340.2" cy="74.9" r="0.45" fill="#111"/>
<rect x="346.4" y="79.0" width="7.0" height="74.6" fill="#a30226" stroke="#8c001c" stroke-width="0.5"/>
<line x1="349.9" y1="71.2" x2="349.9" y2="79.0" stroke="#111" stroke-width="0.85" />
<line x1="348.9" y1="71.2" x2="350.9" y2="71.2" stroke="#111" stroke-width="0.85" />
<circle cx="350.4" cy="83.0" r="0.45" fill="#111"/>
<path d="M341.2,56.4 L341.2,54.6 L349.9,54.6 L349.9,56.4" fill="none" stroke="#111" stroke-width="0.95"/>
<text x="345.54999999999995" y="52.7" font-size="5.8" text-anchor="middle" textLength="20.2" lengthAdjust="spacingAndGlyphs"  stroke="#111" stroke-width="0.16">q &lt; 0.01</text>
<text x="345.54999999999995" y="163.2" font-size="6.6" text-anchor="middle" font-style="italic" fill="#222"  stroke="#222" stroke-width="0.16">Junb</text>
<text x="225.2" y="100" font-size="8.2" text-anchor="middle" transform="rotate(-90 225.2 100)" fill="#222" textLength="38.4" lengthAdjust="spacingAndGlyphs" stroke="#222" stroke-width="0.16">log<tspan dy="1.8" font-size="5.2">2</tspan><tspan dy="-1.8">(FPKM)</tspan></text>
<text x="454.2" y="42.8" font-size="9.0" text-anchor="middle" textLength="21" lengthAdjust="spacingAndGlyphs"  stroke="#111" stroke-width="0.16">qPCR</text>
<line x1="394.3" y1="48" x2="394.3" y2="154.1" stroke="#111" stroke-width="1.0" />
<line x1="393.8" y1="153.7" x2="513.2" y2="153.7" stroke="#111" stroke-width="1.0" />
<line x1="391.8" y1="153.7" x2="394.3" y2="153.7" stroke="#111" stroke-width="0.8" />
<line x1="391.8" y1="115.89999999999999" x2="394.3" y2="115.89999999999999" stroke="#111" stroke-width="0.8" />
<line x1="391.8" y1="78.1" x2="394.3" y2="78.1" stroke="#111" stroke-width="0.8" />
<text x="389.6" y="156.0" font-size="6.4" text-anchor="end"  stroke="#111" stroke-width="0.16">0</text>
<text x="389.6" y="80.39999999999999" font-size="6.4" text-anchor="end"  stroke="#111" stroke-width="0.16">1</text>
<rect x="403.6" y="78.1" width="7.0" height="75.6" fill="#2f4b7f" stroke="#1d3569" stroke-width="0.5"/>
<line x1="407.1" y1="60.8" x2="407.1" y2="78.1" stroke="#111" stroke-width="0.85" />
<line x1="406.1" y1="60.8" x2="408.1" y2="60.8" stroke="#111" stroke-width="0.85" />
<circle cx="407.1" cy="95.0" r="0.45" fill="#111"/>
<circle cx="407.6" cy="120.0" r="0.45" fill="#111"/>
<rect x="412.3" y="116.3" width="7.0" height="37.39999999999999" fill="#a30226" stroke="#8c001c" stroke-width="0.5"/>
<line x1="415.8" y1="103.0" x2="415.8" y2="116.3" stroke="#111" stroke-width="0.85" />
<line x1="414.8" y1="103.0" x2="416.8" y2="103.0" stroke="#111" stroke-width="0.85" />
<circle cx="415.8" cy="126.3" r="0.45" fill="#111"/>
<path d="M407.1,57.0 L407.1,55.2 L415.8,55.2 L415.8,57.0" fill="none" stroke="#111" stroke-width="0.95"/>
<text x="411.45000000000005" y="53.2" font-size="5.8" text-anchor="middle" textLength="20.2" lengthAdjust="spacingAndGlyphs"  stroke="#111" stroke-width="0.16">p &lt; 0.05</text>
<text x="411.45000000000005" y="163.2" font-size="6.6" text-anchor="middle" font-style="italic" fill="#222"  stroke="#222" stroke-width="0.16">Alcam</text>
<rect x="431.6" y="78.1" width="7.0" height="75.6" fill="#2f4b7f" stroke="#1d3569" stroke-width="0.5"/>
<line x1="435.1" y1="68.6" x2="435.1" y2="78.1" stroke="#111" stroke-width="0.85" />
<line x1="434.1" y1="68.6" x2="436.1" y2="68.6" stroke="#111" stroke-width="0.85" />
<circle cx="435.1" cy="95.0" r="0.45" fill="#111"/>
<circle cx="435.6" cy="120.0" r="0.45" fill="#111"/>
<rect x="440.0" y="108.6" width="7.0" height="45.099999999999994" fill="#a30226" stroke="#8c001c" stroke-width="0.5"/>
<line x1="443.5" y1="103.0" x2="443.5" y2="108.6" stroke="#111" stroke-width="0.85" />
<line x1="442.5" y1="103.0" x2="444.5" y2="103.0" stroke="#111" stroke-width="0.85" />
<circle cx="443.5" cy="118.6" r="0.45" fill="#111"/>
<path d="M435.1,57.0 L435.1,55.2 L443.5,55.2 L443.5,57.0" fill="none" stroke="#111" stroke-width="0.95"/>
<text x="439.3" y="53.2" font-size="5.8" text-anchor="middle" textLength="20.2" lengthAdjust="spacingAndGlyphs"  stroke="#111" stroke-width="0.16">p &lt; 0.01</text>
<text x="439.3" y="163.2" font-size="6.6" text-anchor="middle" font-style="italic" fill="#222"  stroke="#222" stroke-width="0.16">Aldh1a1</text>
<rect x="460.0" y="78.1" width="7.0" height="75.6" fill="#2f4b7f" stroke="#1d3569" stroke-width="0.5"/>
<line x1="463.5" y1="67.7" x2="463.5" y2="78.1" stroke="#111" stroke-width="0.85" />
<line x1="462.5" y1="67.7" x2="464.5" y2="67.7" stroke="#111" stroke-width="0.85" />
<circle cx="463.5" cy="95.0" r="0.45" fill="#111"/>
<circle cx="464.0" cy="120.0" r="0.45" fill="#111"/>
<rect x="468.9" y="110.8" width="7.0" height="42.89999999999999" fill="#a30226" stroke="#8c001c" stroke-width="0.5"/>
<line x1="472.4" y1="96.3" x2="472.4" y2="110.8" stroke="#111" stroke-width="0.85" />
<line x1="471.4" y1="96.3" x2="473.4" y2="96.3" stroke="#111" stroke-width="0.85" />
<circle cx="472.4" cy="120.8" r="0.45" fill="#111"/>
<path d="M463.5,57.0 L463.5,55.2 L472.4,55.2 L472.4,57.0" fill="none" stroke="#111" stroke-width="0.95"/>
<text x="467.95" y="53.2" font-size="5.8" text-anchor="middle" textLength="20.2" lengthAdjust="spacingAndGlyphs"  stroke="#111" stroke-width="0.16">p &lt; 0.05</text>
<text x="467.95" y="163.2" font-size="6.6" text-anchor="middle" font-style="italic" fill="#222"  stroke="#222" stroke-width="0.16">Jun</text>
<rect x="488.6" y="78.1" width="7.0" height="75.6" fill="#2f4b7f" stroke="#1d3569" stroke-width="0.5"/>
<line x1="492.1" y1="65.2" x2="492.1" y2="78.1" stroke="#111" stroke-width="0.85" />
<line x1="491.1" y1="65.2" x2="493.1" y2="65.2" stroke="#111" stroke-width="0.85" />
<circle cx="492.1" cy="95.0" r="0.45" fill="#111"/>
<circle cx="492.6" cy="120.0" r="0.45" fill="#111"/>
<rect x="497.0" y="104.6" width="7.0" height="49.099999999999994" fill="#a30226" stroke="#8c001c" stroke-width="0.5"/>
<line x1="500.5" y1="101.0" x2="500.5" y2="104.6" stroke="#111" stroke-width="0.85" />
<line x1="499.5" y1="101.0" x2="501.5" y2="101.0" stroke="#111" stroke-width="0.85" />
<circle cx="500.5" cy="114.6" r="0.45" fill="#111"/>
<path d="M492.1,57.0 L492.1,55.2 L500.5,55.2 L500.5,57.0" fill="none" stroke="#111" stroke-width="0.95"/>
<text x="496.3" y="53.2" font-size="5.8" text-anchor="middle" textLength="20.2" lengthAdjust="spacingAndGlyphs"  stroke="#111" stroke-width="0.16">p &lt; 0.05</text>
<text x="496.3" y="163.2" font-size="6.6" text-anchor="middle" font-style="italic" fill="#222"  stroke="#222" stroke-width="0.16">Junb</text>
<text x="379.4" y="100.7" font-size="7.8" text-anchor="middle" fill="#222" textLength="80.6" lengthAdjust="spacingAndGlyphs" transform="rotate(-90 379.4 100.7)"  stroke="#222" stroke-width="0.16">Relative mRNA expression</text>
<text x="7.3" y="238.5" font-size="11.6" font-weight="bold" fill="#000" >B</text>
<text x="51.1" y="252" font-size="8.9" fill="#111" textLength="190" lengthAdjust="spacingAndGlyphs" stroke="#111" stroke-width="0.16">Control vs <tspan font-style="italic">Runx1</tspan><tspan dy="-2.8" font-size="5" font-style="italic">fl/fl</tspan><tspan dy="2.8" font-style="italic">; Vav1-Cre</tspan> Flt3<tspan dy="-2.8" font-size="5">-</tspan><tspan dy="2.8">Lin</tspan><tspan dy="-2.8" font-size="5">-</tspan><tspan dy="2.8">Sca1</tspan><tspan dy="-2.8" font-size="6.4">+</tspan><tspan dy="2.8">cKit</tspan><tspan dy="-2.8" font-size="6.4">+</tspan></text>
<text x="92.7" y="262.8" font-size="8.9" textLength="108.2" lengthAdjust="spacingAndGlyphs"  stroke="#111" stroke-width="0.16">(Cai X, Cell Stem Cell 2015)</text>
<text x="78.7" y="278.1" font-size="9.0" textLength="48.6" lengthAdjust="spacingAndGlyphs"  stroke="#111" stroke-width="0.16">Control high</text>
<text x="169.6" y="278.1" font-size="9.0" fill="#111" textLength="92.5" lengthAdjust="spacingAndGlyphs" stroke="#111" stroke-width="0.16"><tspan font-style="italic">Runx1</tspan><tspan dy="-2.8" font-size="5" font-style="italic">fl/fl</tspan><tspan dy="2.8" font-style="italic">; Vav1-Cre</tspan> high</text>
<text x="27.8" y="303.1" font-size="8.6" text-anchor="middle" fill="#222" textLength="35.0" lengthAdjust="spacingAndGlyphs" transform="rotate(-90 27.8 303.1)"  stroke="#222" stroke-width="0.16">Enrichment</text>
<text x="39.0" y="303.1" font-size="8.6" text-anchor="middle" fill="#222" textLength="15.4" lengthAdjust="spacingAndGlyphs" transform="rotate(-90 39.0 303.1)"  stroke="#222" stroke-width="0.16">score</text>
<text x="27.5" y="350.4" font-size="8.6" text-anchor="middle" fill="#222" textLength="33.3" lengthAdjust="spacingAndGlyphs" transform="rotate(-90 27.5 350.4)"  stroke="#222" stroke-width="0.16">Ranked list</text>
<text x="38.6" y="350.7" font-size="8.6" text-anchor="middle" fill="#222" textLength="18.6" lengthAdjust="spacingAndGlyphs" transform="rotate(-90 38.6 350.7)"  stroke="#222" stroke-width="0.16">metric</text>
<rect x="58.2" y="283.5" width="89.10000000000001" height="82.89999999999998" fill="#fff" stroke="#e0d9c0" stroke-width="0.9"/>
<line x1="66.93" y1="284.0" x2="66.93" y2="324.0" stroke="#ececec" stroke-width="0.45" />
<line x1="66.93" y1="340.4" x2="66.93" y2="365.9" stroke="#ececec" stroke-width="0.45" />
<line x1="75.26" y1="284.0" x2="75.26" y2="324.0" stroke="#ececec" stroke-width="0.45" />
<line x1="75.26" y1="340.4" x2="75.26" y2="365.9" stroke="#ececec" stroke-width="0.45" />
<line x1="83.59" y1="284.0" x2="83.59" y2="324.0" stroke="#ececec" stroke-width="0.45" />
<line x1="83.59" y1="340.4" x2="83.59" y2="365.9" stroke="#ececec" stroke-width="0.45" />
<line x1="91.92000000000002" y1="284.0" x2="91.92000000000002" y2="324.0" stroke="#ececec" stroke-width="0.45" />
<line x1="91.92000000000002" y1="340.4" x2="91.92000000000002" y2="365.9" stroke="#ececec" stroke-width="0.45" />
<line x1="100.25" y1="284.0" x2="100.25" y2="324.0" stroke="#ececec" stroke-width="0.45" />
<line x1="100.25" y1="340.4" x2="100.25" y2="365.9" stroke="#ececec" stroke-width="0.45" />
<line x1="108.58000000000001" y1="284.0" x2="108.58000000000001" y2="324.0" stroke="#ececec" stroke-width="0.45" />
<line x1="108.58000000000001" y1="340.4" x2="108.58000000000001" y2="365.9" stroke="#ececec" stroke-width="0.45" />
<line x1="116.91000000000003" y1="284.0" x2="116.91000000000003" y2="324.0" stroke="#ececec" stroke-width="0.45" />
<line x1="116.91000000000003" y1="340.4" x2="116.91000000000003" y2="365.9" stroke="#ececec" stroke-width="0.45" />
<line x1="125.24000000000001" y1="284.0" x2="125.24000000000001" y2="324.0" stroke="#ececec" stroke-width="0.45" />
<line x1="125.24000000000001" y1="340.4" x2="125.24000000000001" y2="365.9" stroke="#ececec" stroke-width="0.45" />
<line x1="133.57" y1="284.0" x2="133.57" y2="324.0" stroke="#ececec" stroke-width="0.45" />
<line x1="133.57" y1="340.4" x2="133.57" y2="365.9" stroke="#ececec" stroke-width="0.45" />
<line x1="58.7" y1="291.6" x2="146.8" y2="291.6" stroke="#ececec" stroke-width="0.45" />
<line x1="58.7" y1="299.7" x2="146.8" y2="299.7" stroke="#ececec" stroke-width="0.45" />
<line x1="58.7" y1="307.8" x2="146.8" y2="307.8" stroke="#ececec" stroke-width="0.45" />
<line x1="58.7" y1="315.9" x2="146.8" y2="315.9" stroke="#ececec" stroke-width="0.45" />
<line x1="58.7" y1="346.15" x2="146.8" y2="346.15" stroke="#ececec" stroke-width="0.45" />
<line x1="58.7" y1="352.9" x2="146.8" y2="352.9" stroke="#ececec" stroke-width="0.45" />
<line x1="58.7" y1="359.65" x2="146.8" y2="359.65" stroke="#ececec" stroke-width="0.45" />
<line x1="58.2" y1="319.2" x2="147.3" y2="319.2" stroke="#dcdcdc" stroke-width="0.5" />
<line x1="58.2" y1="323.7" x2="147.3" y2="323.7" stroke="#e0d9c0" stroke-width="0.6" />
<line x1="58.2" y1="340.29999999999995" x2="147.3" y2="340.29999999999995" stroke="#e0d9c0" stroke-width="0.6" />
<rect x="58.70" y="324.0" width="14.80" height="12.100000000000023" fill="#15140e" />
<rect x="73.50" y="324.0" width="14.70" height="12.100000000000023" fill="#1c1b14" />
<rect x="74.60" y="324.0" width="0.50" height="12.100000000000023" fill="#6a6a60" />
<rect x="76.80" y="324.0" width="0.60" height="12.100000000000023" fill="#8a8a80" />
<rect x="79.20" y="324.0" width="0.50" height="12.100000000000023" fill="#707068" />
<rect x="81.30" y="324.0" width="0.70" height="12.100000000000023" fill="#9a9a90" />
<rect x="83.60" y="324.0" width="0.50" height="12.100000000000023" fill="#60605a" />
<rect x="85.70" y="324.0" width="0.60" height="12.100000000000023" fill="#a0a098" />
<rect x="87.20" y="324.0" width="0.40" height="12.100000000000023" fill="#80807a" />
<rect x="111.20" y="324.0" width="1.00" height="12.100000000000023" fill="#4b4b45" />
<rect x="112.20" y="324.0" width="1.30" height="12.100000000000023" fill="#c0c0ba" />
<rect x="113.49" y="324.0" width="1.09" height="12.100000000000023" fill="#54544e" />
<rect x="114.59" y="324.0" width="0.53" height="12.100000000000023" fill="#a3a39d" />
<rect x="115.11" y="324.0" width="1.25" height="12.100000000000023" fill="#474741" />
<rect x="116.37" y="324.0" width="1.40" height="12.100000000000023" fill="#8e8e88" />
<rect x="117.77" y="324.0" width="0.88" height="12.100000000000023" fill="#33332d" />
<rect x="118.65" y="324.0" width="1.04" height="12.100000000000023" fill="#aaaaa4" />
<rect x="119.69" y="324.0" width="0.51" height="12.100000000000023" fill="#32322c" />
<rect x="120.20" y="324.0" width="0.78" height="12.100000000000023" fill="#bebeb8" />
<rect x="120.98" y="324.0" width="1.11" height="12.100000000000023" fill="#2f2f29" />
<rect x="122.09" y="324.0" width="1.30" height="12.100000000000023" fill="#90908a" />
<rect x="123.39" y="324.0" width="0.99" height="12.100000000000023" fill="#2e2e28" />
<rect x="124.38" y="324.0" width="0.50" height="12.100000000000023" fill="#bcbcb6" />
<rect x="124.88" y="324.0" width="0.67" height="12.100000000000023" fill="#32322c" />
<rect x="125.55" y="324.0" width="1.48" height="12.100000000000023" fill="#bcbcb6" />
<rect x="127.03" y="324.0" width="0.73" height="12.100000000000023" fill="#565650" />
<rect x="127.77" y="324.0" width="1.04" height="12.100000000000023" fill="#b0b0aa" />
<rect x="128.81" y="324.0" width="0.66" height="12.100000000000023" fill="#55554f" />
<rect x="129.47" y="324.0" width="1.19" height="12.100000000000023" fill="#c1c1bb" />
<rect x="130.66" y="324.0" width="1.21" height="12.100000000000023" fill="#363630" />
<rect x="131.87" y="324.0" width="0.86" height="12.100000000000023" fill="#91918b" />
<rect x="132.74" y="324.0" width="0.62" height="12.100000000000023" fill="#2b2b25" />
<rect x="133.35" y="324.0" width="0.80" height="12.100000000000023" fill="#acaca6" />
<rect x="134.15" y="324.0" width="0.50" height="12.100000000000023" fill="#484842" />
<rect x="134.66" y="324.0" width="0.84" height="12.100000000000023" fill="#9a9a94" />
<rect x="135.49" y="324.0" width="1.15" height="12.100000000000023" fill="#3f3f39" />
<rect x="136.65" y="324.0" width="0.82" height="12.100000000000023" fill="#a4a49e" />
<rect x="137.46" y="324.0" width="1.06" height="12.100000000000023" fill="#2a2a24" />
<rect x="138.53" y="324.0" width="1.48" height="12.100000000000023" fill="#898983" />
<rect x="140.00" y="324.0" width="1.10" height="12.100000000000023" fill="#50504a" />
<rect x="141.10" y="324.0" width="0.52" height="12.100000000000023" fill="#b7b7b1" />
<rect x="141.62" y="324.0" width="0.28" height="12.100000000000023" fill="#43433d" />
<linearGradient id="cb1" x1="0" x2="1" y1="0" y2="0"><stop offset="0.000" stop-color="#a8141c"/><stop offset="0.150" stop-color="#c42a34"/><stop offset="0.270" stop-color="#d2485a"/><stop offset="0.280" stop-color="#d86a90"/><stop offset="0.300" stop-color="#e2a6d2"/><stop offset="0.610" stop-color="#e4b2dc"/><stop offset="0.630" stop-color="#c6c6ec"/><stop offset="0.790" stop-color="#a8a8e0"/><stop offset="0.840" stop-color="#5050b0"/><stop offset="1.000" stop-color="#282890"/></linearGradient>
<rect x="58.6" y="336.1" width="83.30000000000001" height="3.2999999999999545" fill="url(#cb1)" />
<path d="M58.6,347.9 C64.6,348.7 72.6,349.7 85.6,350.3 L58.6,350.6 Z" fill="#cdcdcd"/>
<path d="M108.6,350.3 C125.2,350.8 137.9,351.5 141.4,353.3 L141.4,350.3 Z" fill="#cdcdcd"/>
<line x1="58.6" y1="350.3" x2="141.9" y2="350.3" stroke="#c4c4c4" stroke-width="0.5" />
<text x="59.6" y="341.29999999999995" font-size="1.9" fill="#e03030" textLength="24.990000000000002" lengthAdjust="spacingAndGlyphs" >Runx1 positively correlated</text>
<text x="59.6" y="348.0" font-size="6.9" font-style="italic" fill="#222" stroke="#222" stroke-width="0.16">Runx1<tspan dy="-2.6" font-size="4">+/+</tspan></text>
<text x="79.42500000000001" y="353.3" font-size="1.9" fill="#444" textLength="18.326000000000004" lengthAdjust="spacingAndGlyphs" >Zero cross at 8993</text>
<text x="92.3" y="363.3" font-size="6.9" font-style="italic" fill="#222" stroke="#222" stroke-width="0.16">Runx1<tspan dy="-2.8" font-size="4.2">KTAMK/KTAMK</tspan></text>
<text x="111.07900000000001" y="364.0" font-size="1.9" fill="#3a3ad0" textLength="21.658000000000005" lengthAdjust="spacingAndGlyphs" >negatively correlated</text>
<path d="M58.7,319.2 C59.2,316.8 60.5,309.0 61.5,304.6 C62.5,300.2 63.3,295.8 64.4,293.0 C65.5,290.2 67.0,289.0 68.3,287.7 C69.6,286.4 70.7,285.7 72.1,285.4 C73.5,285.1 74.8,285.3 76.9,285.8 C79.0,286.3 81.4,286.9 84.6,288.3 C87.8,289.7 92.3,291.6 96.2,294.0 C100.1,296.4 103.9,299.8 107.7,302.7 C111.5,305.6 115.3,308.8 119.2,311.3 C123.1,313.9 127.4,316.4 130.8,318.0 C134.2,319.6 137.6,320.8 139.4,321.0 C141.2,321.2 141.5,319.7 141.9,319.4" fill="none" stroke="#84c03e" stroke-width="1.2" stroke-linejoin="round"/>
<text x="142.4" y="291.4" font-size="5.8" text-anchor="end" fill="#222" textLength="22.6" lengthAdjust="spacingAndGlyphs"  stroke="#222" stroke-width="0.16">NES 2.09</text>
<text x="142.4" y="299.9" font-size="5.8" text-anchor="end" fill="#222" textLength="30.3" lengthAdjust="spacingAndGlyphs"  stroke="#222" stroke-width="0.16">FDR &lt; 0.001</text>
<text x="54.7" y="289.5" font-size="6.8" text-anchor="end" fill="#222"  stroke="#222" stroke-width="0.16">0.6</text>
<text x="54.7" y="321.5" font-size="6.8" text-anchor="end" fill="#222"  stroke="#222" stroke-width="0.16">0.0</text>
<text x="54.7" y="344.6" font-size="6.8" text-anchor="end" fill="#222"  stroke="#222" stroke-width="0.16">2.5</text>
<text x="54.7" y="352.6" font-size="6.8" text-anchor="end" fill="#222"  stroke="#222" stroke-width="0.16">0.0</text>
<text x="54.7" y="367.0" font-size="6.8" text-anchor="end" fill="#222"  stroke="#222" stroke-width="0.16">-5.0</text>
<text x="102.75" y="377.7" font-size="8.8" text-anchor="middle" fill="#222" textLength="72.3" lengthAdjust="spacingAndGlyphs"  stroke="#222" stroke-width="0.16">Rank in ordered dataset</text>
<rect x="172.2" y="284.1" width="87.40000000000003" height="82.29999999999995" fill="#fff" stroke="#e0d9c0" stroke-width="0.9"/>
<line x1="180.79999999999998" y1="284.6" x2="180.79999999999998" y2="324.0" stroke="#ececec" stroke-width="0.45" />
<line x1="180.79999999999998" y1="340.4" x2="180.79999999999998" y2="365.9" stroke="#ececec" stroke-width="0.45" />
<line x1="189.0" y1="284.6" x2="189.0" y2="324.0" stroke="#ececec" stroke-width="0.45" />
<line x1="189.0" y1="340.4" x2="189.0" y2="365.9" stroke="#ececec" stroke-width="0.45" />
<line x1="197.2" y1="284.6" x2="197.2" y2="324.0" stroke="#ececec" stroke-width="0.45" />
<line x1="197.2" y1="340.4" x2="197.2" y2="365.9" stroke="#ececec" stroke-width="0.45" />
<line x1="205.39999999999998" y1="284.6" x2="205.39999999999998" y2="324.0" stroke="#ececec" stroke-width="0.45" />
<line x1="205.39999999999998" y1="340.4" x2="205.39999999999998" y2="365.9" stroke="#ececec" stroke-width="0.45" />
<line x1="213.6" y1="284.6" x2="213.6" y2="324.0" stroke="#ececec" stroke-width="0.45" />
<line x1="213.6" y1="340.4" x2="213.6" y2="365.9" stroke="#ececec" stroke-width="0.45" />
<line x1="221.8" y1="284.6" x2="221.8" y2="324.0" stroke="#ececec" stroke-width="0.45" />
<line x1="221.8" y1="340.4" x2="221.8" y2="365.9" stroke="#ececec" stroke-width="0.45" />
<line x1="230.0" y1="284.6" x2="230.0" y2="324.0" stroke="#ececec" stroke-width="0.45" />
<line x1="230.0" y1="340.4" x2="230.0" y2="365.9" stroke="#ececec" stroke-width="0.45" />
<line x1="238.2" y1="284.6" x2="238.2" y2="324.0" stroke="#ececec" stroke-width="0.45" />
<line x1="238.2" y1="340.4" x2="238.2" y2="365.9" stroke="#ececec" stroke-width="0.45" />
<line x1="246.39999999999998" y1="284.6" x2="246.39999999999998" y2="324.0" stroke="#ececec" stroke-width="0.45" />
<line x1="246.39999999999998" y1="340.4" x2="246.39999999999998" y2="365.9" stroke="#ececec" stroke-width="0.45" />
<line x1="172.7" y1="292.08000000000004" x2="259.1" y2="292.08000000000004" stroke="#ececec" stroke-width="0.45" />
<line x1="172.7" y1="300.06" x2="259.1" y2="300.06" stroke="#ececec" stroke-width="0.45" />
<line x1="172.7" y1="308.04" x2="259.1" y2="308.04" stroke="#ececec" stroke-width="0.45" />
<line x1="172.7" y1="316.02" x2="259.1" y2="316.02" stroke="#ececec" stroke-width="0.45" />
<line x1="172.7" y1="346.15" x2="259.1" y2="346.15" stroke="#ececec" stroke-width="0.45" />
<line x1="172.7" y1="352.9" x2="259.1" y2="352.9" stroke="#ececec" stroke-width="0.45" />
<line x1="172.7" y1="359.65" x2="259.1" y2="359.65" stroke="#ececec" stroke-width="0.45" />
<line x1="172.2" y1="297.9" x2="259.6" y2="297.9" stroke="#dcdcdc" stroke-width="0.5" />
<line x1="172.2" y1="323.7" x2="259.6" y2="323.7" stroke="#e0d9c0" stroke-width="0.6" />
<line x1="172.2" y1="340.29999999999995" x2="259.6" y2="340.29999999999995" stroke="#e0d9c0" stroke-width="0.6" />
<rect x="172.70" y="324.0" width="1.59" height="12.100000000000023" fill="#2b2b25" />
<rect x="174.29" y="324.0" width="0.84" height="12.100000000000023" fill="#80807a" />
<rect x="175.13" y="324.0" width="0.80" height="12.100000000000023" fill="#262620" />
<rect x="175.93" y="324.0" width="0.83" height="12.100000000000023" fill="#a0a09a" />
<rect x="176.76" y="324.0" width="1.17" height="12.100000000000023" fill="#292923" />
<rect x="177.94" y="324.0" width="0.69" height="12.100000000000023" fill="#a3a39d" />
<rect x="178.63" y="324.0" width="1.53" height="12.100000000000023" fill="#1f1f19" />
<rect x="180.16" y="324.0" width="0.88" height="12.100000000000023" fill="#9b9b95" />
<rect x="181.03" y="324.0" width="0.99" height="12.100000000000023" fill="#23231d" />
<rect x="182.03" y="324.0" width="1.06" height="12.100000000000023" fill="#80807a" />
<rect x="183.09" y="324.0" width="1.60" height="12.100000000000023" fill="#272721" />
<rect x="184.69" y="324.0" width="1.09" height="12.100000000000023" fill="#85857f" />
<rect x="185.78" y="324.0" width="0.89" height="12.100000000000023" fill="#2a2a24" />
<rect x="186.68" y="324.0" width="1.06" height="12.100000000000023" fill="#8c8c86" />
<rect x="187.74" y="324.0" width="0.89" height="12.100000000000023" fill="#191913" />
<rect x="188.63" y="324.0" width="0.94" height="12.100000000000023" fill="#82827c" />
<rect x="189.58" y="324.0" width="1.75" height="12.100000000000023" fill="#24241e" />
<rect x="191.33" y="324.0" width="0.64" height="12.100000000000023" fill="#999993" />
<rect x="191.97" y="324.0" width="1.16" height="12.100000000000023" fill="#2e2e28" />
<rect x="193.13" y="324.0" width="1.14" height="12.100000000000023" fill="#90908a" />
<rect x="194.27" y="324.0" width="1.44" height="12.100000000000023" fill="#272721" />
<rect x="195.71" y="324.0" width="1.06" height="12.100000000000023" fill="#aeaea8" />
<rect x="196.78" y="324.0" width="0.83" height="12.100000000000023" fill="#1e1e18" />
<rect x="197.60" y="324.0" width="0.92" height="12.100000000000023" fill="#83837d" />
<rect x="198.53" y="324.0" width="1.39" height="12.100000000000023" fill="#161610" />
<rect x="199.92" y="324.0" width="1.12" height="12.100000000000023" fill="#91918b" />
<rect x="201.03" y="324.0" width="0.92" height="12.100000000000023" fill="#262620" />
<rect x="201.95" y="324.0" width="0.72" height="12.100000000000023" fill="#7c7c76" />
<rect x="202.67" y="324.0" width="1.28" height="12.100000000000023" fill="#171711" />
<rect x="203.95" y="324.0" width="0.55" height="12.100000000000023" fill="#a7a7a1" />
<rect x="205.50" y="324.0" width="0.60" height="12.100000000000023" fill="#999990" />
<rect x="207.50" y="324.0" width="0.50" height="12.100000000000023" fill="#bbbbb4" />
<rect x="209.50" y="324.0" width="0.80" height="12.100000000000023" fill="#77776f" />
<rect x="211.50" y="324.0" width="0.50" height="12.100000000000023" fill="#aaaaa2" />
<rect x="218.80" y="324.0" width="0.50" height="12.100000000000023" fill="#cccccc" />
<rect x="222.50" y="324.0" width="1.19" height="12.100000000000023" fill="#191913" />
<rect x="223.69" y="324.0" width="0.79" height="12.100000000000023" fill="#64645e" />
<rect x="224.48" y="324.0" width="1.44" height="12.100000000000023" fill="#21211b" />
<rect x="225.92" y="324.0" width="0.43" height="12.100000000000023" fill="#80807a" />
<rect x="226.36" y="324.0" width="0.84" height="12.100000000000023" fill="#24241e" />
<rect x="227.20" y="324.0" width="0.44" height="12.100000000000023" fill="#65655f" />
<rect x="227.64" y="324.0" width="1.31" height="12.100000000000023" fill="#33332d" />
<rect x="228.95" y="324.0" width="0.47" height="12.100000000000023" fill="#6e6e68" />
<rect x="229.43" y="324.0" width="1.55" height="12.100000000000023" fill="#383832" />
<rect x="230.98" y="324.0" width="0.75" height="12.100000000000023" fill="#797973" />
<rect x="231.73" y="324.0" width="1.97" height="12.100000000000023" fill="#15150f" />
<rect x="233.70" y="324.0" width="0.92" height="12.100000000000023" fill="#72726c" />
<rect x="234.61" y="324.0" width="0.97" height="12.100000000000023" fill="#181812" />
<rect x="235.59" y="324.0" width="0.59" height="12.100000000000023" fill="#94948e" />
<rect x="236.17" y="324.0" width="1.02" height="12.100000000000023" fill="#2a2a24" />
<rect x="237.19" y="324.0" width="0.78" height="12.100000000000023" fill="#777771" />
<rect x="237.97" y="324.0" width="1.46" height="12.100000000000023" fill="#161610" />
<rect x="239.43" y="324.0" width="0.44" height="12.100000000000023" fill="#6d6d67" />
<rect x="239.86" y="324.0" width="1.62" height="12.100000000000023" fill="#24241e" />
<rect x="241.48" y="324.0" width="0.59" height="12.100000000000023" fill="#85857f" />
<rect x="242.07" y="324.0" width="1.34" height="12.100000000000023" fill="#1f1f19" />
<rect x="243.41" y="324.0" width="0.88" height="12.100000000000023" fill="#8c8c86" />
<rect x="244.29" y="324.0" width="1.09" height="12.100000000000023" fill="#292923" />
<rect x="245.38" y="324.0" width="0.72" height="12.100000000000023" fill="#989892" />
<rect x="246.10" y="324.0" width="1.68" height="12.100000000000023" fill="#1e1e18" />
<rect x="247.77" y="324.0" width="0.99" height="12.100000000000023" fill="#676761" />
<rect x="248.76" y="324.0" width="1.30" height="12.100000000000023" fill="#30302a" />
<rect x="250.06" y="324.0" width="0.49" height="12.100000000000023" fill="#7f7f79" />
<rect x="250.55" y="324.0" width="0.85" height="12.100000000000023" fill="#2d2d27" />
<rect x="251.40" y="324.0" width="0.86" height="12.100000000000023" fill="#84847e" />
<rect x="252.26" y="324.0" width="1.85" height="12.100000000000023" fill="#1f1f19" />
<rect x="254.11" y="324.0" width="0.49" height="12.100000000000023" fill="#868680" />
<linearGradient id="cb2" x1="0" x2="1" y1="0" y2="0"><stop offset="0.000" stop-color="#a8141c"/><stop offset="0.150" stop-color="#c42a34"/><stop offset="0.270" stop-color="#d2485a"/><stop offset="0.270" stop-color="#d86a90"/><stop offset="0.290" stop-color="#e2a6d2"/><stop offset="0.600" stop-color="#e4b2dc"/><stop offset="0.620" stop-color="#c6c6ec"/><stop offset="0.770" stop-color="#a8a8e0"/><stop offset="0.820" stop-color="#5050b0"/><stop offset="1.000" stop-color="#282890"/></linearGradient>
<rect x="172.6" y="336.1" width="82.0" height="3.2999999999999545" fill="url(#cb2)" />
<path d="M172.6,341.8 C173.4,347.3 175.1,349.1 178.6,349.6 C184.6,350.0 192.6,350.2 205.4,350.3 L172.6,350.6 Z" fill="#cdcdcd"/>
<path d="M217.7,350.3 C234.1,350.9 249.6,351.8 253.4,352.9 L254.1,356.8 L254.1,350.3 Z" fill="#cdcdcd"/>
<line x1="172.6" y1="350.3" x2="254.6" y2="350.3" stroke="#c4c4c4" stroke-width="0.5" />
<text x="173.6" y="341.29999999999995" font-size="1.9" fill="#e03030" textLength="24.599999999999998" lengthAdjust="spacingAndGlyphs" >Runx1 positively correlated</text>
<text x="177.2" y="348.0" font-size="6.9" font-style="italic" fill="#222" stroke="#222" stroke-width="0.16">Runx1<tspan dy="-2.6" font-size="4">+/+</tspan></text>
<text x="193.1" y="353.3" font-size="1.9" fill="#444" textLength="18.04" lengthAdjust="spacingAndGlyphs" >Zero cross at 8993</text>
<text x="209.1" y="363.3" font-size="6.9" font-style="italic" fill="#222" stroke="#222" stroke-width="0.16">Runx1<tspan dy="-2.8" font-size="4.2">KTAMK/KTAMK</tspan></text>
<text x="224.26" y="364.0" font-size="1.9" fill="#3a3ad0" textLength="21.32" lengthAdjust="spacingAndGlyphs" >negatively correlated</text>
<path d="M172.4,297.6 C172.7,296.5 173.3,292.4 174.2,290.8 C175.1,289.2 176.1,289.0 177.7,288.1 C179.2,287.2 181.8,285.6 183.5,285.3 C185.2,285.0 186.0,285.4 188.1,286.2 C190.2,287.0 192.9,288.3 196.2,290.4 C199.5,292.4 203.8,295.6 207.7,298.5 C211.5,301.4 215.8,305.0 219.3,307.7 C222.8,310.4 225.8,312.7 228.5,314.6 C231.2,316.5 233.3,318.2 235.4,319.3 C237.5,320.4 239.3,320.9 241.2,321.1 C243.1,321.3 245.4,321.1 247.0,320.4 C248.6,319.7 249.5,318.5 250.5,317.0 C251.5,315.5 252.2,313.7 252.8,311.2 C253.5,308.7 254.0,304.3 254.4,302.0 C254.8,299.7 254.9,298.1 255.0,297.3" fill="none" stroke="#84c03e" stroke-width="1.2" stroke-linejoin="round"/>
<text x="255.1" y="291.6" font-size="5.8" text-anchor="end" fill="#222" textLength="25.5" lengthAdjust="spacingAndGlyphs"  stroke="#222" stroke-width="0.16">NES -1.43</text>
<text x="255.1" y="300.1" font-size="5.8" text-anchor="end" fill="#222" textLength="30.3" lengthAdjust="spacingAndGlyphs"  stroke="#222" stroke-width="0.16">FDR &lt; 0.001</text>
<text x="168.7" y="286.90000000000003" font-size="6.8" text-anchor="end" fill="#222"  stroke="#222" stroke-width="0.16">0.2</text>
<text x="168.7" y="300.2" font-size="6.8" text-anchor="end" fill="#222"  stroke="#222" stroke-width="0.16">0.0</text>
<text x="168.7" y="325.6" font-size="6.8" text-anchor="end" fill="#222"  stroke="#222" stroke-width="0.16">-0.4</text>
<text x="168.7" y="344.6" font-size="6.8" text-anchor="end" fill="#222"  stroke="#222" stroke-width="0.16">2.5</text>
<text x="168.7" y="352.6" font-size="6.8" text-anchor="end" fill="#222"  stroke="#222" stroke-width="0.16">0.0</text>
<text x="168.7" y="367.0" font-size="6.8" text-anchor="end" fill="#222"  stroke="#222" stroke-width="0.16">-5.0</text>
<text x="215.9" y="377.7" font-size="8.8" text-anchor="middle" fill="#222" textLength="72.3" lengthAdjust="spacingAndGlyphs"  stroke="#222" stroke-width="0.16">Rank in ordered dataset</text>
<text x="7.2" y="405.2" font-size="11.6" font-weight="bold" fill="#000" >C</text>
<text x="31.3" y="419.0" font-size="8.9" textLength="230" lengthAdjust="spacingAndGlyphs"  stroke="#111" stroke-width="0.16">HSC vs MPP1 (Cabezas-Wallscheid N, Cell Stem Cell 2014)</text>
<text x="84.6" y="431.5" font-size="9.0" textLength="36" lengthAdjust="spacingAndGlyphs"  stroke="#111" stroke-width="0.16">HSC high</text>
<text x="195.4" y="431.5" font-size="9.0" textLength="42.6" lengthAdjust="spacingAndGlyphs"  stroke="#111" stroke-width="0.16">MPP1 high</text>
<text x="27.8" y="456.1" font-size="8.6" text-anchor="middle" fill="#222" textLength="34.7" lengthAdjust="spacingAndGlyphs" transform="rotate(-90 27.8 456.1)"  stroke="#222" stroke-width="0.16">Enrichment</text>
<text x="39.0" y="456.1" font-size="8.6" text-anchor="middle" fill="#222" textLength="15.4" lengthAdjust="spacingAndGlyphs" transform="rotate(-90 39.0 456.1)"  stroke="#222" stroke-width="0.16">score</text>
<text x="27.5" y="503.9" font-size="8.6" text-anchor="middle" fill="#222" textLength="32.5" lengthAdjust="spacingAndGlyphs" transform="rotate(-90 27.5 503.9)"  stroke="#222" stroke-width="0.16">Ranked list</text>
<text x="38.6" y="504.2" font-size="8.6" text-anchor="middle" fill="#222" textLength="18.3" lengthAdjust="spacingAndGlyphs" transform="rotate(-90 38.6 504.2)"  stroke="#222" stroke-width="0.16">metric</text>
<rect x="58.1" y="437.3" width="88.4" height="82.49999999999994" fill="#fff" stroke="#e0d9c0" stroke-width="0.9"/>
<line x1="66.85" y1="437.8" x2="66.85" y2="477.4" stroke="#ececec" stroke-width="0.45" />
<line x1="66.85" y1="493.7" x2="66.85" y2="519.3" stroke="#ececec" stroke-width="0.45" />
<line x1="75.2" y1="437.8" x2="75.2" y2="477.4" stroke="#ececec" stroke-width="0.45" />
<line x1="75.2" y1="493.7" x2="75.2" y2="519.3" stroke="#ececec" stroke-width="0.45" />
<line x1="83.55" y1="437.8" x2="83.55" y2="477.4" stroke="#ececec" stroke-width="0.45" />
<line x1="83.55" y1="493.7" x2="83.55" y2="519.3" stroke="#ececec" stroke-width="0.45" />
<line x1="91.9" y1="437.8" x2="91.9" y2="477.4" stroke="#ececec" stroke-width="0.45" />
<line x1="91.9" y1="493.7" x2="91.9" y2="519.3" stroke="#ececec" stroke-width="0.45" />
<line x1="100.25" y1="437.8" x2="100.25" y2="477.4" stroke="#ececec" stroke-width="0.45" />
<line x1="100.25" y1="493.7" x2="100.25" y2="519.3" stroke="#ececec" stroke-width="0.45" />
<line x1="108.6" y1="437.8" x2="108.6" y2="477.4" stroke="#ececec" stroke-width="0.45" />
<line x1="108.6" y1="493.7" x2="108.6" y2="519.3" stroke="#ececec" stroke-width="0.45" />
<line x1="116.95" y1="437.8" x2="116.95" y2="477.4" stroke="#ececec" stroke-width="0.45" />
<line x1="116.95" y1="493.7" x2="116.95" y2="519.3" stroke="#ececec" stroke-width="0.45" />
<line x1="125.3" y1="437.8" x2="125.3" y2="477.4" stroke="#ececec" stroke-width="0.45" />
<line x1="125.3" y1="493.7" x2="125.3" y2="519.3" stroke="#ececec" stroke-width="0.45" />
<line x1="133.65" y1="437.8" x2="133.65" y2="477.4" stroke="#ececec" stroke-width="0.45" />
<line x1="133.65" y1="493.7" x2="133.65" y2="519.3" stroke="#ececec" stroke-width="0.45" />
<line x1="58.6" y1="445.32" x2="146.0" y2="445.32" stroke="#ececec" stroke-width="0.45" />
<line x1="58.6" y1="453.34" x2="146.0" y2="453.34" stroke="#ececec" stroke-width="0.45" />
<line x1="58.6" y1="461.36" x2="146.0" y2="461.36" stroke="#ececec" stroke-width="0.45" />
<line x1="58.6" y1="469.38" x2="146.0" y2="469.38" stroke="#ececec" stroke-width="0.45" />
<line x1="58.6" y1="499.47499999999997" x2="146.0" y2="499.47499999999997" stroke="#ececec" stroke-width="0.45" />
<line x1="58.6" y1="506.25" x2="146.0" y2="506.25" stroke="#ececec" stroke-width="0.45" />
<line x1="58.6" y1="513.025" x2="146.0" y2="513.025" stroke="#ececec" stroke-width="0.45" />
<line x1="58.1" y1="470.6" x2="146.5" y2="470.6" stroke="#dcdcdc" stroke-width="0.5" />
<line x1="58.1" y1="477.09999999999997" x2="146.5" y2="477.09999999999997" stroke="#e0d9c0" stroke-width="0.6" />
<line x1="58.1" y1="493.59999999999997" x2="146.5" y2="493.59999999999997" stroke="#e0d9c0" stroke-width="0.6" />
<rect x="58.70" y="477.4" width="5.40" height="12.0" fill="#222220" />
<rect x="64.10" y="477.4" width="1.90" height="12.0" fill="#9a9a94" />
<rect x="66.00" y="477.4" width="2.70" height="12.0" fill="#262622" />
<rect x="68.70" y="477.4" width="1.80" height="12.0" fill="#a8a8a0" />
<rect x="70.50" y="477.4" width="3.60" height="12.0" fill="#22221e" />
<rect x="74.10" y="477.4" width="0.90" height="12.0" fill="#8a8a84" />
<rect x="75.00" y="477.4" width="4.50" height="12.0" fill="#252520" />
<rect x="79.50" y="477.4" width="1.10" height="12.0" fill="#cfcfc8" />
<rect x="80.60" y="477.4" width="0.90" height="12.0" fill="#77776f" />
<rect x="83.00" y="477.4" width="2.80" height="12.0" fill="#333330" />
<rect x="87.70" y="477.4" width="0.90" height="12.0" fill="#4a4a44" />
<rect x="90.30" y="477.4" width="0.90" height="12.0" fill="#666660" />
<rect x="113.00" y="477.4" width="0.78" height="12.0" fill="#565650" />
<rect x="113.78" y="477.4" width="0.73" height="12.0" fill="#a1a19b" />
<rect x="114.51" y="477.4" width="0.67" height="12.0" fill="#393933" />
<rect x="115.18" y="477.4" width="1.60" height="12.0" fill="#8a8a84" />
<rect x="116.77" y="477.4" width="1.11" height="12.0" fill="#42423c" />
<rect x="117.89" y="477.4" width="1.05" height="12.0" fill="#979791" />
<rect x="118.94" y="477.4" width="0.75" height="12.0" fill="#51514b" />
<rect x="119.70" y="477.4" width="0.69" height="12.0" fill="#8b8b85" />
<rect x="120.38" y="477.4" width="0.62" height="12.0" fill="#3a3a34" />
<rect x="121.00" y="477.4" width="1.01" height="12.0" fill="#ababa5" />
<rect x="122.01" y="477.4" width="0.90" height="12.0" fill="#34342e" />
<rect x="122.91" y="477.4" width="0.86" height="12.0" fill="#afafa9" />
<rect x="123.77" y="477.4" width="0.65" height="12.0" fill="#484842" />
<rect x="124.42" y="477.4" width="0.98" height="12.0" fill="#9f9f99" />
<rect x="125.40" y="477.4" width="0.87" height="12.0" fill="#4b4b45" />
<rect x="126.27" y="477.4" width="1.10" height="12.0" fill="#9f9f99" />
<rect x="127.37" y="477.4" width="1.32" height="12.0" fill="#474741" />
<rect x="128.69" y="477.4" width="0.74" height="12.0" fill="#83837d" />
<rect x="129.43" y="477.4" width="1.36" height="12.0" fill="#43433d" />
<rect x="130.79" y="477.4" width="0.79" height="12.0" fill="#adada7" />
<rect x="131.58" y="477.4" width="1.06" height="12.0" fill="#4d4d47" />
<rect x="132.64" y="477.4" width="1.48" height="12.0" fill="#8d8d87" />
<rect x="134.12" y="477.4" width="0.89" height="12.0" fill="#53534d" />
<rect x="135.01" y="477.4" width="0.73" height="12.0" fill="#a4a49e" />
<rect x="135.74" y="477.4" width="0.68" height="12.0" fill="#4b4b45" />
<rect x="136.42" y="477.4" width="1.30" height="12.0" fill="#adada7" />
<rect x="137.72" y="477.4" width="1.27" height="12.0" fill="#44443e" />
<rect x="139.00" y="477.4" width="0.80" height="12.0" fill="#878781" />
<rect x="139.80" y="477.4" width="1.02" height="12.0" fill="#44443e" />
<rect x="140.82" y="477.4" width="0.67" height="12.0" fill="#ababa5" />
<rect x="141.49" y="477.4" width="0.51" height="12.0" fill="#4c4c46" />
<linearGradient id="cb3" x1="0" x2="1" y1="0" y2="0"><stop offset="0.000" stop-color="#a8141c"/><stop offset="0.150" stop-color="#c42a34"/><stop offset="0.270" stop-color="#d2485a"/><stop offset="0.280" stop-color="#d86a90"/><stop offset="0.300" stop-color="#e2a6d2"/><stop offset="0.630" stop-color="#e4b2dc"/><stop offset="0.650" stop-color="#c6c6ec"/><stop offset="0.790" stop-color="#a8a8e0"/><stop offset="0.840" stop-color="#5050b0"/><stop offset="1.000" stop-color="#282890"/></linearGradient>
<rect x="58.5" y="489.4" width="83.5" height="3.3000000000000114" fill="url(#cb3)" />
<path d="M58.5,501.5 C64.5,502.3 72.5,503.3 85.5,503.9 L58.5,504.2 Z" fill="#cdcdcd"/>
<path d="M108.6,503.9 C125.3,504.4 138.0,505.1 141.5,506.9 L141.5,503.9 Z" fill="#cdcdcd"/>
<line x1="58.5" y1="503.9" x2="142.0" y2="503.9" stroke="#c4c4c4" stroke-width="0.5" />
<text x="59.5" y="494.59999999999997" font-size="1.9" fill="#e03030" textLength="25.05" lengthAdjust="spacingAndGlyphs" >Runx1 positively correlated</text>
<text x="59.5" y="501.6" font-size="6.9" font-style="italic" fill="#222" stroke="#222" stroke-width="0.16">Runx1<tspan dy="-2.6" font-size="4">+/+</tspan></text>
<text x="79.375" y="506.9" font-size="1.9" fill="#444" textLength="18.37" lengthAdjust="spacingAndGlyphs" >Zero cross at 8993</text>
<text x="92.3" y="516.5" font-size="6.9" font-style="italic" fill="#222" stroke="#222" stroke-width="0.16">Runx1<tspan dy="-2.8" font-size="4.2">KTAMK/KTAMK</tspan></text>
<text x="111.10499999999999" y="517.1999999999999" font-size="1.9" fill="#3a3ad0" textLength="21.71" lengthAdjust="spacingAndGlyphs" >negatively correlated</text>
<path d="M58.4,470.6 C58.8,468.5 59.8,461.4 60.6,458.0 C61.5,454.6 62.4,453.1 63.5,450.4 C64.6,447.7 65.7,443.5 67.3,441.7 C68.9,439.9 71.0,439.9 73.1,439.8 C75.2,439.7 77.5,440.5 79.8,440.8 C82.1,441.1 82.6,439.9 86.8,441.9 C91.0,443.9 99.3,449.3 105.0,452.8 C110.7,456.3 116.5,459.9 121.2,462.9 C125.9,465.9 130.3,469.1 133.3,471.0 C136.3,472.9 137.8,474.3 139.3,474.2 C140.8,474.1 141.7,470.9 142.2,470.2" fill="none" stroke="#84c03e" stroke-width="1.2" stroke-linejoin="round"/>
<text x="142.5" y="445.3" font-size="5.8" text-anchor="end" fill="#222" textLength="22.6" lengthAdjust="spacingAndGlyphs"  stroke="#222" stroke-width="0.16">NES 1.67</text>
<text x="142.5" y="453.8" font-size="5.8" text-anchor="end" fill="#222" textLength="30.3" lengthAdjust="spacingAndGlyphs"  stroke="#222" stroke-width="0.16">FDR &lt; 0.001</text>
<text x="54.6" y="443.6" font-size="6.8" text-anchor="end" fill="#222"  stroke="#222" stroke-width="0.16">0.5</text>
<text x="54.6" y="472.90000000000003" font-size="6.8" text-anchor="end" fill="#222"  stroke="#222" stroke-width="0.16">0.0</text>
<text x="54.6" y="498.1" font-size="6.8" text-anchor="end" fill="#222"  stroke="#222" stroke-width="0.16">2.5</text>
<text x="54.6" y="506.2" font-size="6.8" text-anchor="end" fill="#222"  stroke="#222" stroke-width="0.16">0.0</text>
<text x="54.6" y="520.1999999999999" font-size="6.8" text-anchor="end" fill="#222"  stroke="#222" stroke-width="0.16">-5.0</text>
<text x="102.3" y="531.0999999999999" font-size="8.8" text-anchor="middle" fill="#222" textLength="72.3" lengthAdjust="spacingAndGlyphs"  stroke="#222" stroke-width="0.16">Rank in ordered dataset</text>
<rect x="172.3" y="437.3" width="88.39999999999998" height="82.49999999999994" fill="#fff" stroke="#e0d9c0" stroke-width="0.9"/>
<line x1="180.93" y1="437.8" x2="180.93" y2="477.4" stroke="#ececec" stroke-width="0.45" />
<line x1="180.93" y1="493.7" x2="180.93" y2="519.3" stroke="#ececec" stroke-width="0.45" />
<line x1="189.16000000000003" y1="437.8" x2="189.16000000000003" y2="477.4" stroke="#ececec" stroke-width="0.45" />
<line x1="189.16000000000003" y1="493.7" x2="189.16000000000003" y2="519.3" stroke="#ececec" stroke-width="0.45" />
<line x1="197.39000000000001" y1="437.8" x2="197.39000000000001" y2="477.4" stroke="#ececec" stroke-width="0.45" />
<line x1="197.39000000000001" y1="493.7" x2="197.39000000000001" y2="519.3" stroke="#ececec" stroke-width="0.45" />
<line x1="205.62" y1="437.8" x2="205.62" y2="477.4" stroke="#ececec" stroke-width="0.45" />
<line x1="205.62" y1="493.7" x2="205.62" y2="519.3" stroke="#ececec" stroke-width="0.45" />
<line x1="213.85000000000002" y1="437.8" x2="213.85000000000002" y2="477.4" stroke="#ececec" stroke-width="0.45" />
<line x1="213.85000000000002" y1="493.7" x2="213.85000000000002" y2="519.3" stroke="#ececec" stroke-width="0.45" />
<line x1="222.08" y1="437.8" x2="222.08" y2="477.4" stroke="#ececec" stroke-width="0.45" />
<line x1="222.08" y1="493.7" x2="222.08" y2="519.3" stroke="#ececec" stroke-width="0.45" />
<line x1="230.31" y1="437.8" x2="230.31" y2="477.4" stroke="#ececec" stroke-width="0.45" />
<line x1="230.31" y1="493.7" x2="230.31" y2="519.3" stroke="#ececec" stroke-width="0.45" />
<line x1="238.54000000000002" y1="437.8" x2="238.54000000000002" y2="477.4" stroke="#ececec" stroke-width="0.45" />
<line x1="238.54000000000002" y1="493.7" x2="238.54000000000002" y2="519.3" stroke="#ececec" stroke-width="0.45" />
<line x1="246.76999999999998" y1="437.8" x2="246.76999999999998" y2="477.4" stroke="#ececec" stroke-width="0.45" />
<line x1="246.76999999999998" y1="493.7" x2="246.76999999999998" y2="519.3" stroke="#ececec" stroke-width="0.45" />
<line x1="172.8" y1="445.32" x2="260.2" y2="445.32" stroke="#ececec" stroke-width="0.45" />
<line x1="172.8" y1="453.34" x2="260.2" y2="453.34" stroke="#ececec" stroke-width="0.45" />
<line x1="172.8" y1="461.36" x2="260.2" y2="461.36" stroke="#ececec" stroke-width="0.45" />
<line x1="172.8" y1="469.38" x2="260.2" y2="469.38" stroke="#ececec" stroke-width="0.45" />
<line x1="172.8" y1="499.47499999999997" x2="260.2" y2="499.47499999999997" stroke="#ececec" stroke-width="0.45" />
<line x1="172.8" y1="506.25" x2="260.2" y2="506.25" stroke="#ececec" stroke-width="0.45" />
<line x1="172.8" y1="513.025" x2="260.2" y2="513.025" stroke="#ececec" stroke-width="0.45" />
<line x1="172.3" y1="440.6" x2="260.7" y2="440.6" stroke="#dcdcdc" stroke-width="0.5" />
<line x1="172.3" y1="477.09999999999997" x2="260.7" y2="477.09999999999997" stroke="#e0d9c0" stroke-width="0.6" />
<line x1="172.3" y1="493.59999999999997" x2="260.7" y2="493.59999999999997" stroke="#e0d9c0" stroke-width="0.6" />
<rect x="177.60" y="477.4" width="0.90" height="12.0" fill="#3a3a36" />
<rect x="182.90" y="477.4" width="0.80" height="12.0" fill="#44443e" />
<rect x="190.00" y="477.4" width="0.90" height="12.0" fill="#3a3a36" />
<rect x="194.40" y="477.4" width="0.80" height="12.0" fill="#55554f" />
<rect x="200.60" y="477.4" width="0.80" height="12.0" fill="#44443e" />
<rect x="186.50" y="477.4" width="0.50" height="12.0" fill="#bbbbb4" />
<rect x="222.20" y="477.4" width="0.87" height="12.0" fill="#3c3c36" />
<rect x="223.07" y="477.4" width="0.64" height="12.0" fill="#c0c0ba" />
<rect x="223.71" y="477.4" width="0.51" height="12.0" fill="#44443e" />
<rect x="224.21" y="477.4" width="1.40" height="12.0" fill="#94948e" />
<rect x="225.61" y="477.4" width="0.94" height="12.0" fill="#4a4a44" />
<rect x="226.56" y="477.4" width="0.54" height="12.0" fill="#a5a59f" />
<rect x="227.10" y="477.4" width="1.06" height="12.0" fill="#41413b" />
<rect x="228.16" y="477.4" width="1.23" height="12.0" fill="#989892" />
<rect x="229.38" y="477.4" width="0.69" height="12.0" fill="#2e2e28" />
<rect x="230.07" y="477.4" width="1.01" height="12.0" fill="#c3c3bd" />
<rect x="231.08" y="477.4" width="0.97" height="12.0" fill="#53534d" />
<rect x="232.05" y="477.4" width="0.88" height="12.0" fill="#b9b9b3" />
<rect x="232.94" y="477.4" width="0.58" height="12.0" fill="#383832" />
<rect x="233.52" y="477.4" width="1.17" height="12.0" fill="#b8b8b2" />
<rect x="234.69" y="477.4" width="0.84" height="12.0" fill="#2c2c26" />
<rect x="235.53" y="477.4" width="0.77" height="12.0" fill="#9b9b95" />
<rect x="236.30" y="477.4" width="0.72" height="12.0" fill="#55554f" />
<rect x="237.02" y="477.4" width="0.70" height="12.0" fill="#c1c1bb" />
<rect x="237.72" y="477.4" width="1.20" height="12.0" fill="#2b2b25" />
<rect x="238.92" y="477.4" width="0.88" height="12.0" fill="#ababa5" />
<rect x="239.80" y="477.4" width="0.52" height="12.0" fill="#3f3f39" />
<rect x="240.32" y="477.4" width="1.41" height="12.0" fill="#969690" />
<rect x="241.73" y="477.4" width="0.98" height="12.0" fill="#2e2e28" />
<rect x="242.71" y="477.4" width="1.08" height="12.0" fill="#c2c2bc" />
<rect x="243.79" y="477.4" width="0.66" height="12.0" fill="#282822" />
<rect x="244.45" y="477.4" width="0.58" height="12.0" fill="#aeaea8" />
<rect x="245.03" y="477.4" width="0.51" height="12.0" fill="#2c2c26" />
<rect x="245.54" y="477.4" width="1.00" height="12.0" fill="#c3c3bd" />
<rect x="246.54" y="477.4" width="0.84" height="12.0" fill="#3e3e38" />
<rect x="247.38" y="477.4" width="0.52" height="12.0" fill="#95958f" />
<rect x="247.90" y="477.4" width="7.10" height="12.0" fill="#151510" />
<rect x="249.50" y="477.4" width="0.50" height="12.0" fill="#77776f" />
<rect x="251.80" y="477.4" width="0.40" height="12.0" fill="#606058" />
<linearGradient id="cb4" x1="0" x2="1" y1="0" y2="0"><stop offset="-0.000" stop-color="#a8141c"/><stop offset="0.150" stop-color="#c42a34"/><stop offset="0.270" stop-color="#d2485a"/><stop offset="0.280" stop-color="#d86a90"/><stop offset="0.300" stop-color="#e2a6d2"/><stop offset="0.610" stop-color="#e4b2dc"/><stop offset="0.630" stop-color="#c6c6ec"/><stop offset="0.770" stop-color="#a8a8e0"/><stop offset="0.820" stop-color="#5050b0"/><stop offset="1.000" stop-color="#282890"/></linearGradient>
<rect x="172.70000000000002" y="489.4" width="82.29999999999998" height="3.3000000000000114" fill="url(#cb4)" />
<path d="M172.7,495.4 C173.5,500.9 175.2,502.7 178.7,503.2 C184.7,503.6 192.7,503.8 205.6,503.9 L172.7,504.2 Z" fill="#cdcdcd"/>
<path d="M218.0,503.9 C234.4,504.5 250.0,505.4 253.8,506.5 L254.5,510.4 L254.5,503.9 Z" fill="#cdcdcd"/>
<line x1="172.70000000000002" y1="503.9" x2="255.0" y2="503.9" stroke="#c4c4c4" stroke-width="0.5" />
<text x="173.70000000000002" y="494.59999999999997" font-size="1.9" fill="#e03030" textLength="24.689999999999994" lengthAdjust="spacingAndGlyphs" >Runx1 positively correlated</text>
<text x="177.3" y="501.6" font-size="6.9" font-style="italic" fill="#222" stroke="#222" stroke-width="0.16">Runx1<tspan dy="-2.6" font-size="4">+/+</tspan></text>
<text x="193.275" y="506.9" font-size="1.9" fill="#444" textLength="18.105999999999998" lengthAdjust="spacingAndGlyphs" >Zero cross at 8993</text>
<text x="209.3" y="516.5" font-size="6.9" font-style="italic" fill="#222" stroke="#222" stroke-width="0.16">Runx1<tspan dy="-2.8" font-size="4.2">KTAMK/KTAMK</tspan></text>
<text x="224.549" y="517.1999999999999" font-size="1.9" fill="#3a3ad0" textLength="21.397999999999996" lengthAdjust="spacingAndGlyphs" >negatively correlated</text>
<path d="M172.4,439.8 C173.3,440.1 175.7,441.0 177.7,441.9 C179.7,442.8 181.5,443.8 184.6,445.4 C187.7,446.9 192.3,449.3 196.2,451.2 C200.0,453.1 203.8,455.0 207.7,456.9 C211.5,458.8 215.5,460.6 219.3,462.7 C223.2,464.8 227.7,467.8 230.8,469.6 C233.9,471.4 235.8,472.8 237.7,473.6 C239.6,474.4 240.8,474.6 242.4,474.3 C244.0,474.0 245.7,473.2 247.0,471.9 C248.3,470.5 249.5,468.3 250.5,466.2 C251.5,464.1 252.2,462.0 252.8,459.3 C253.5,456.6 254.0,453.1 254.4,450.0 C254.8,446.9 255.2,442.3 255.4,440.8" fill="none" stroke="#84c03e" stroke-width="1.2" stroke-linejoin="round"/>
<text x="255.5" y="445.3" font-size="5.8" text-anchor="end" fill="#222" textLength="25.5" lengthAdjust="spacingAndGlyphs"  stroke="#222" stroke-width="0.16">NES -2.38</text>
<text x="255.5" y="453.8" font-size="5.8" text-anchor="end" fill="#222" textLength="30.3" lengthAdjust="spacingAndGlyphs"  stroke="#222" stroke-width="0.16">FDR &lt; 0.001</text>
<text x="168.8" y="442.90000000000003" font-size="6.8" text-anchor="end" fill="#222"  stroke="#222" stroke-width="0.16">0.0</text>
<text x="168.8" y="476.8" font-size="6.8" text-anchor="end" fill="#222"  stroke="#222" stroke-width="0.16">-0.7</text>
<text x="168.8" y="498.1" font-size="6.8" text-anchor="end" fill="#222"  stroke="#222" stroke-width="0.16">2.5</text>
<text x="168.8" y="506.2" font-size="6.8" text-anchor="end" fill="#222"  stroke="#222" stroke-width="0.16">0.0</text>
<text x="168.8" y="520.1999999999999" font-size="6.8" text-anchor="end" fill="#222"  stroke="#222" stroke-width="0.16">-5.0</text>
<text x="216.5" y="531.0999999999999" font-size="8.8" text-anchor="middle" fill="#222" textLength="72.3" lengthAdjust="spacingAndGlyphs"  stroke="#222" stroke-width="0.16">Rank in ordered dataset</text>
<text x="278.4" y="193.0" font-size="11.6" font-weight="bold" fill="#000" >E</text>
<text x="293" y="206" font-size="8.8" fill="#111" textLength="99" lengthAdjust="spacingAndGlyphs" stroke="#111" stroke-width="0.16">CD34<tspan dy="-2.8" font-size="5">-</tspan><tspan dy="2.8">Flt3</tspan><tspan dy="-2.8" font-size="5">-</tspan><tspan dy="2.8">Lin</tspan><tspan dy="-2.8" font-size="5">-</tspan><tspan dy="2.8">Sca1</tspan><tspan dy="-2.8" font-size="6.4">+</tspan><tspan dy="2.8">cKit</tspan><tspan dy="-2.8" font-size="6.4">+</tspan></text>
<text x="400.8" y="206" font-size="8.8" fill="#111" textLength="71.5" lengthAdjust="spacingAndGlyphs" stroke="#111" stroke-width="0.16">Flt3<tspan dy="-2.8" font-size="5">-</tspan><tspan dy="2.8">Lin</tspan><tspan dy="-2.8" font-size="5">-</tspan><tspan dy="2.8">Sca1</tspan><tspan dy="-2.8" font-size="6.4">+</tspan><tspan dy="2.8">cKit</tspan><tspan dy="-2.8" font-size="6.4">+</tspan></text>
<rect x="304.5" y="211.3" width="76.69999999999999" height="76.39999999999998" fill="none" stroke="#111" stroke-width="1.25"/>
<line x1="303.1" y1="284.95" x2="304.5" y2="284.95" stroke="#111" stroke-width="0.65" />
<line x1="303.1" y1="282.2" x2="304.5" y2="282.2" stroke="#111" stroke-width="0.65" />
<line x1="303.1" y1="279.45" x2="304.5" y2="279.45" stroke="#111" stroke-width="0.65" />
<line x1="303.1" y1="276.7" x2="304.5" y2="276.7" stroke="#111" stroke-width="0.65" />
<line x1="301.9" y1="273.95" x2="304.5" y2="273.95" stroke="#111" stroke-width="0.65" />
<line x1="303.1" y1="271.2" x2="304.5" y2="271.2" stroke="#111" stroke-width="0.65" />
<line x1="303.1" y1="268.45" x2="304.5" y2="268.45" stroke="#111" stroke-width="0.65" />
<line x1="303.1" y1="265.7" x2="304.5" y2="265.7" stroke="#111" stroke-width="0.65" />
<line x1="303.1" y1="262.95" x2="304.5" y2="262.95" stroke="#111" stroke-width="0.65" />
<line x1="301.9" y1="260.2" x2="304.5" y2="260.2" stroke="#111" stroke-width="0.65" />
<line x1="303.1" y1="257.45" x2="304.5" y2="257.45" stroke="#111" stroke-width="0.65" />
<line x1="303.1" y1="254.7" x2="304.5" y2="254.7" stroke="#111" stroke-width="0.65" />
<line x1="303.1" y1="251.95" x2="304.5" y2="251.95" stroke="#111" stroke-width="0.65" />
<line x1="303.1" y1="249.2" x2="304.5" y2="249.2" stroke="#111" stroke-width="0.65" />
<line x1="301.9" y1="246.45" x2="304.5" y2="246.45" stroke="#111" stroke-width="0.65" />
<line x1="303.1" y1="243.7" x2="304.5" y2="243.7" stroke="#111" stroke-width="0.65" />
<line x1="303.1" y1="240.95" x2="304.5" y2="240.95" stroke="#111" stroke-width="0.65" />
<line x1="303.1" y1="238.2" x2="304.5" y2="238.2" stroke="#111" stroke-width="0.65" />
<line x1="303.1" y1="235.45" x2="304.5" y2="235.45" stroke="#111" stroke-width="0.65" />
<line x1="301.9" y1="232.7" x2="304.5" y2="232.7" stroke="#111" stroke-width="0.65" />
<line x1="303.1" y1="229.95" x2="304.5" y2="229.95" stroke="#111" stroke-width="0.65" />
<line x1="303.1" y1="227.2" x2="304.5" y2="227.2" stroke="#111" stroke-width="0.65" />
<line x1="303.1" y1="224.45" x2="304.5" y2="224.45" stroke="#111" stroke-width="0.65" />
<line x1="303.1" y1="221.7" x2="304.5" y2="221.7" stroke="#111" stroke-width="0.65" />
<line x1="301.9" y1="218.95" x2="304.5" y2="218.95" stroke="#111" stroke-width="0.65" />
<line x1="303.1" y1="216.2" x2="304.5" y2="216.2" stroke="#111" stroke-width="0.65" />
<line x1="303.1" y1="213.45" x2="304.5" y2="213.45" stroke="#111" stroke-width="0.65" />
<line x1="307.5" y1="287.7" x2="307.5" y2="289.5" stroke="#111" stroke-width="0.5" />
<line x1="311.7565641386887" y1="287.7" x2="311.7565641386887" y2="288.7" stroke="#111" stroke-width="0.5" />
<line x1="314.246494541736" y1="287.7" x2="314.246494541736" y2="288.7" stroke="#111" stroke-width="0.5" />
<line x1="316.0131282773774" y1="287.7" x2="316.0131282773774" y2="288.7" stroke="#111" stroke-width="0.5" />
<line x1="317.3834358613113" y1="287.7" x2="317.3834358613113" y2="288.7" stroke="#111" stroke-width="0.5" />
<line x1="318.5030586804247" y1="287.7" x2="318.5030586804247" y2="288.7" stroke="#111" stroke-width="0.5" />
<line x1="319.4496862858016" y1="287.7" x2="319.4496862858016" y2="288.7" stroke="#111" stroke-width="0.5" />
<line x1="320.2696924160661" y1="287.7" x2="320.2696924160661" y2="288.7" stroke="#111" stroke-width="0.5" />
<line x1="320.992989083472" y1="287.7" x2="320.992989083472" y2="288.7" stroke="#111" stroke-width="0.5" />
<line x1="321.64" y1="287.7" x2="321.64" y2="289.5" stroke="#111" stroke-width="0.5" />
<line x1="325.8965641386887" y1="287.7" x2="325.8965641386887" y2="288.7" stroke="#111" stroke-width="0.5" />
<line x1="328.386494541736" y1="287.7" x2="328.386494541736" y2="288.7" stroke="#111" stroke-width="0.5" />
<line x1="330.1531282773774" y1="287.7" x2="330.1531282773774" y2="288.7" stroke="#111" stroke-width="0.5" />
<line x1="331.5234358613113" y1="287.7" x2="331.5234358613113" y2="288.7" stroke="#111" stroke-width="0.5" />
<line x1="332.6430586804247" y1="287.7" x2="332.6430586804247" y2="288.7" stroke="#111" stroke-width="0.5" />
<line x1="333.5896862858016" y1="287.7" x2="333.5896862858016" y2="288.7" stroke="#111" stroke-width="0.5" />
<line x1="334.4096924160661" y1="287.7" x2="334.4096924160661" y2="288.7" stroke="#111" stroke-width="0.5" />
<line x1="335.13298908347207" y1="287.7" x2="335.13298908347207" y2="288.7" stroke="#111" stroke-width="0.5" />
<line x1="335.78" y1="287.7" x2="335.78" y2="289.5" stroke="#111" stroke-width="0.5" />
<line x1="340.0365641386887" y1="287.7" x2="340.0365641386887" y2="288.7" stroke="#111" stroke-width="0.5" />
<line x1="342.52649454173604" y1="287.7" x2="342.52649454173604" y2="288.7" stroke="#111" stroke-width="0.5" />
<line x1="344.2931282773774" y1="287.7" x2="344.2931282773774" y2="288.7" stroke="#111" stroke-width="0.5" />
<line x1="345.6634358613113" y1="287.7" x2="345.6634358613113" y2="288.7" stroke="#111" stroke-width="0.5" />
<line x1="346.7830586804247" y1="287.7" x2="346.7830586804247" y2="288.7" stroke="#111" stroke-width="0.5" />
<line x1="347.72968628580156" y1="287.7" x2="347.72968628580156" y2="288.7" stroke="#111" stroke-width="0.5" />
<line x1="348.5496924160661" y1="287.7" x2="348.5496924160661" y2="288.7" stroke="#111" stroke-width="0.5" />
<line x1="349.27298908347205" y1="287.7" x2="349.27298908347205" y2="288.7" stroke="#111" stroke-width="0.5" />
<line x1="349.92" y1="287.7" x2="349.92" y2="289.5" stroke="#111" stroke-width="0.5" />
<line x1="354.17656413868866" y1="287.7" x2="354.17656413868866" y2="288.7" stroke="#111" stroke-width="0.5" />
<line x1="356.66649454173603" y1="287.7" x2="356.66649454173603" y2="288.7" stroke="#111" stroke-width="0.5" />
<line x1="358.43312827737736" y1="287.7" x2="358.43312827737736" y2="288.7" stroke="#111" stroke-width="0.5" />
<line x1="359.8034358613113" y1="287.7" x2="359.8034358613113" y2="288.7" stroke="#111" stroke-width="0.5" />
<line x1="360.92305868042473" y1="287.7" x2="360.92305868042473" y2="288.7" stroke="#111" stroke-width="0.5" />
<line x1="361.8696862858016" y1="287.7" x2="361.8696862858016" y2="288.7" stroke="#111" stroke-width="0.5" />
<line x1="362.68969241606607" y1="287.7" x2="362.68969241606607" y2="288.7" stroke="#111" stroke-width="0.5" />
<line x1="363.41298908347204" y1="287.7" x2="363.41298908347204" y2="288.7" stroke="#111" stroke-width="0.5" />
<line x1="364.06" y1="287.7" x2="364.06" y2="289.5" stroke="#111" stroke-width="0.5" />
<line x1="368.3165641386887" y1="287.7" x2="368.3165641386887" y2="288.7" stroke="#111" stroke-width="0.5" />
<line x1="370.806494541736" y1="287.7" x2="370.806494541736" y2="288.7" stroke="#111" stroke-width="0.5" />
<line x1="372.57312827737735" y1="287.7" x2="372.57312827737735" y2="288.7" stroke="#111" stroke-width="0.5" />
<line x1="373.9434358613113" y1="287.7" x2="373.9434358613113" y2="288.7" stroke="#111" stroke-width="0.5" />
<line x1="375.0630586804247" y1="287.7" x2="375.0630586804247" y2="288.7" stroke="#111" stroke-width="0.5" />
<line x1="376.0096862858016" y1="287.7" x2="376.0096862858016" y2="288.7" stroke="#111" stroke-width="0.5" />
<line x1="376.82969241606605" y1="287.7" x2="376.82969241606605" y2="288.7" stroke="#111" stroke-width="0.5" />
<line x1="377.552989083472" y1="287.7" x2="377.552989083472" y2="288.7" stroke="#111" stroke-width="0.5" />
<rect x="400.2" y="211.4" width="76.0" height="76.20000000000002" fill="none" stroke="#111" stroke-width="1.25"/>
<line x1="398.8" y1="284.85" x2="400.2" y2="284.85" stroke="#111" stroke-width="0.65" />
<line x1="398.8" y1="282.1" x2="400.2" y2="282.1" stroke="#111" stroke-width="0.65" />
<line x1="398.8" y1="279.35" x2="400.2" y2="279.35" stroke="#111" stroke-width="0.65" />
<line x1="398.8" y1="276.6" x2="400.2" y2="276.6" stroke="#111" stroke-width="0.65" />
<line x1="397.59999999999997" y1="273.85" x2="400.2" y2="273.85" stroke="#111" stroke-width="0.65" />
<line x1="398.8" y1="271.1" x2="400.2" y2="271.1" stroke="#111" stroke-width="0.65" />
<line x1="398.8" y1="268.35" x2="400.2" y2="268.35" stroke="#111" stroke-width="0.65" />
<line x1="398.8" y1="265.6" x2="400.2" y2="265.6" stroke="#111" stroke-width="0.65" />
<line x1="398.8" y1="262.85" x2="400.2" y2="262.85" stroke="#111" stroke-width="0.65" />
<line x1="397.59999999999997" y1="260.1" x2="400.2" y2="260.1" stroke="#111" stroke-width="0.65" />
<line x1="398.8" y1="257.35" x2="400.2" y2="257.35" stroke="#111" stroke-width="0.65" />
<line x1="398.8" y1="254.60000000000002" x2="400.2" y2="254.60000000000002" stroke="#111" stroke-width="0.65" />
<line x1="398.8" y1="251.85000000000002" x2="400.2" y2="251.85000000000002" stroke="#111" stroke-width="0.65" />
<line x1="398.8" y1="249.10000000000002" x2="400.2" y2="249.10000000000002" stroke="#111" stroke-width="0.65" />
<line x1="397.59999999999997" y1="246.35000000000002" x2="400.2" y2="246.35000000000002" stroke="#111" stroke-width="0.65" />
<line x1="398.8" y1="243.60000000000002" x2="400.2" y2="243.60000000000002" stroke="#111" stroke-width="0.65" />
<line x1="398.8" y1="240.85000000000002" x2="400.2" y2="240.85000000000002" stroke="#111" stroke-width="0.65" />
<line x1="398.8" y1="238.10000000000002" x2="400.2" y2="238.10000000000002" stroke="#111" stroke-width="0.65" />
<line x1="398.8" y1="235.35000000000002" x2="400.2" y2="235.35000000000002" stroke="#111" stroke-width="0.65" />
<line x1="397.59999999999997" y1="232.60000000000002" x2="400.2" y2="232.60000000000002" stroke="#111" stroke-width="0.65" />
<line x1="398.8" y1="229.85000000000002" x2="400.2" y2="229.85000000000002" stroke="#111" stroke-width="0.65" />
<line x1="398.8" y1="227.10000000000002" x2="400.2" y2="227.10000000000002" stroke="#111" stroke-width="0.65" />
<line x1="398.8" y1="224.35000000000002" x2="400.2" y2="224.35000000000002" stroke="#111" stroke-width="0.65" />
<line x1="398.8" y1="221.60000000000002" x2="400.2" y2="221.60000000000002" stroke="#111" stroke-width="0.65" />
<line x1="397.59999999999997" y1="218.85000000000002" x2="400.2" y2="218.85000000000002" stroke="#111" stroke-width="0.65" />
<line x1="398.8" y1="216.10000000000002" x2="400.2" y2="216.10000000000002" stroke="#111" stroke-width="0.65" />
<line x1="398.8" y1="213.35000000000002" x2="400.2" y2="213.35000000000002" stroke="#111" stroke-width="0.65" />
<line x1="403.2" y1="287.6" x2="403.2" y2="289.40000000000003" stroke="#111" stroke-width="0.5" />
<line x1="407.4144199392957" y1="287.6" x2="407.4144199392957" y2="288.6" stroke="#111" stroke-width="0.5" />
<line x1="409.87969756607527" y1="287.6" x2="409.87969756607527" y2="288.6" stroke="#111" stroke-width="0.5" />
<line x1="411.62883987859146" y1="287.6" x2="411.62883987859146" y2="288.6" stroke="#111" stroke-width="0.5" />
<line x1="412.98558006070425" y1="287.6" x2="412.98558006070425" y2="288.6" stroke="#111" stroke-width="0.5" />
<line x1="414.094117505371" y1="287.6" x2="414.094117505371" y2="288.6" stroke="#111" stroke-width="0.5" />
<line x1="415.0313725601996" y1="287.6" x2="415.0313725601996" y2="288.6" stroke="#111" stroke-width="0.5" />
<line x1="415.8432598178872" y1="287.6" x2="415.8432598178872" y2="288.6" stroke="#111" stroke-width="0.5" />
<line x1="416.55939513215054" y1="287.6" x2="416.55939513215054" y2="288.6" stroke="#111" stroke-width="0.5" />
<line x1="417.2" y1="287.6" x2="417.2" y2="289.40000000000003" stroke="#111" stroke-width="0.5" />
<line x1="421.4144199392957" y1="287.6" x2="421.4144199392957" y2="288.6" stroke="#111" stroke-width="0.5" />
<line x1="423.87969756607527" y1="287.6" x2="423.87969756607527" y2="288.6" stroke="#111" stroke-width="0.5" />
<line x1="425.62883987859146" y1="287.6" x2="425.62883987859146" y2="288.6" stroke="#111" stroke-width="0.5" />
<line x1="426.98558006070425" y1="287.6" x2="426.98558006070425" y2="288.6" stroke="#111" stroke-width="0.5" />
<line x1="428.094117505371" y1="287.6" x2="428.094117505371" y2="288.6" stroke="#111" stroke-width="0.5" />
<line x1="429.0313725601996" y1="287.6" x2="429.0313725601996" y2="288.6" stroke="#111" stroke-width="0.5" />
<line x1="429.8432598178872" y1="287.6" x2="429.8432598178872" y2="288.6" stroke="#111" stroke-width="0.5" />
<line x1="430.55939513215054" y1="287.6" x2="430.55939513215054" y2="288.6" stroke="#111" stroke-width="0.5" />
<line x1="431.2" y1="287.6" x2="431.2" y2="289.40000000000003" stroke="#111" stroke-width="0.5" />
<line x1="435.4144199392957" y1="287.6" x2="435.4144199392957" y2="288.6" stroke="#111" stroke-width="0.5" />
<line x1="437.87969756607527" y1="287.6" x2="437.87969756607527" y2="288.6" stroke="#111" stroke-width="0.5" />
<line x1="439.62883987859146" y1="287.6" x2="439.62883987859146" y2="288.6" stroke="#111" stroke-width="0.5" />
<line x1="440.98558006070425" y1="287.6" x2="440.98558006070425" y2="288.6" stroke="#111" stroke-width="0.5" />
<line x1="442.094117505371" y1="287.6" x2="442.094117505371" y2="288.6" stroke="#111" stroke-width="0.5" />
<line x1="443.0313725601996" y1="287.6" x2="443.0313725601996" y2="288.6" stroke="#111" stroke-width="0.5" />
<line x1="443.8432598178872" y1="287.6" x2="443.8432598178872" y2="288.6" stroke="#111" stroke-width="0.5" />
<line x1="444.55939513215054" y1="287.6" x2="444.55939513215054" y2="288.6" stroke="#111" stroke-width="0.5" />
<line x1="445.2" y1="287.6" x2="445.2" y2="289.40000000000003" stroke="#111" stroke-width="0.5" />
<line x1="449.4144199392957" y1="287.6" x2="449.4144199392957" y2="288.6" stroke="#111" stroke-width="0.5" />
<line x1="451.87969756607527" y1="287.6" x2="451.87969756607527" y2="288.6" stroke="#111" stroke-width="0.5" />
<line x1="453.62883987859146" y1="287.6" x2="453.62883987859146" y2="288.6" stroke="#111" stroke-width="0.5" />
<line x1="454.98558006070425" y1="287.6" x2="454.98558006070425" y2="288.6" stroke="#111" stroke-width="0.5" />
<line x1="456.094117505371" y1="287.6" x2="456.094117505371" y2="288.6" stroke="#111" stroke-width="0.5" />
<line x1="457.0313725601996" y1="287.6" x2="457.0313725601996" y2="288.6" stroke="#111" stroke-width="0.5" />
<line x1="457.8432598178872" y1="287.6" x2="457.8432598178872" y2="288.6" stroke="#111" stroke-width="0.5" />
<line x1="458.55939513215054" y1="287.6" x2="458.55939513215054" y2="288.6" stroke="#111" stroke-width="0.5" />
<line x1="459.2" y1="287.6" x2="459.2" y2="289.40000000000003" stroke="#111" stroke-width="0.5" />
<line x1="463.4144199392957" y1="287.6" x2="463.4144199392957" y2="288.6" stroke="#111" stroke-width="0.5" />
<line x1="465.87969756607527" y1="287.6" x2="465.87969756607527" y2="288.6" stroke="#111" stroke-width="0.5" />
<line x1="467.62883987859146" y1="287.6" x2="467.62883987859146" y2="288.6" stroke="#111" stroke-width="0.5" />
<line x1="468.98558006070425" y1="287.6" x2="468.98558006070425" y2="288.6" stroke="#111" stroke-width="0.5" />
<line x1="470.094117505371" y1="287.6" x2="470.094117505371" y2="288.6" stroke="#111" stroke-width="0.5" />
<line x1="471.0313725601996" y1="287.6" x2="471.0313725601996" y2="288.6" stroke="#111" stroke-width="0.5" />
<line x1="471.8432598178872" y1="287.6" x2="471.8432598178872" y2="288.6" stroke="#111" stroke-width="0.5" />
<line x1="472.55939513215054" y1="287.6" x2="472.55939513215054" y2="288.6" stroke="#111" stroke-width="0.5" />
<text x="297.4" y="251.0" font-size="8.8" text-anchor="middle" fill="#222" textLength="61.2" lengthAdjust="spacingAndGlyphs" transform="rotate(-90 297.4 251.0)"  stroke="#222" stroke-width="0.16">Normalized to mode</text>
<text x="314.3" y="218.3" font-size="6.0" font-style="italic" fill="#3a5a9c">Runx1<tspan dy="-2.2" font-size="3.6">+/+</tspan></text>
<text x="314.3" y="228.3" font-size="6.0" font-style="italic" fill="#c8234a">Runx1<tspan dy="-2.2" font-size="3.6">KTAMK/KTAMK</tspan></text>
<path d="M323.7,287.3 L326.5,276.2 L328.5,264.6 L330.4,254.0 L332.3,253.0 L333.8,245.4 L334.8,243.8 L336.2,249.2 L337.7,243.5 L339.0,241.5 L341.0,237.7 L342.9,240.6 L344.2,247.3 L345.8,256.9 L347.7,266.5 L349.6,276.2 L351.5,280.0 L353.5,282.9 L355.4,285.8 L357.3,286.2 L359.2,287.3" fill="none" stroke="#3a5a9c" stroke-width="1.15" stroke-linejoin="round"/>
<path d="M321.7,287.3 L324.6,281.9 L326.9,268.5 L328.5,249.2 L329.4,238.7 L330.4,236.7 L331.3,238.7 L332.7,239.6 L334.2,240.6 L335.8,243.5 L336.7,249.2 L338.1,244.4 L339.0,248.3 L340.4,259.8 L342.9,263.7 L345.8,274.2 L349.6,284.8 L351.5,287.3" fill="none" stroke="#c8234a" stroke-width="1.15" stroke-linejoin="round"/>
<path d="M417.5,287.1 L420.4,276.5 L422.7,253.5 L424.6,236.2 L425.8,228.5 L426.7,224.6 L427.7,232.3 L429.0,235.2 L431.0,241.9 L433.8,257.3 L437.7,268.8 L441.5,278.5 L445.4,284.2 L451.2,287.1" fill="none" stroke="#3a5a9c" stroke-width="1.15" stroke-linejoin="round"/>
<path d="M415.6,287.5 L418.5,280.4 L421.3,263.1 L423.3,245.8 L425.2,226.5 L426.7,220.4 L428.1,223.7 L429.6,236.2 L431.9,253.5 L434.8,270.8 L437.7,280.4 L441.5,285.2 L445.4,287.1" fill="none" stroke="#c8234a" stroke-width="1.15" stroke-linejoin="round"/>
<line x1="303.0" y1="294.3" x2="474.8" y2="294.3" stroke="#222" stroke-width="1.25" />
<path d="M473.8,292.5 L477.8,294.3 L473.8,296.1 Z" fill="#222"/>
<text x="393.4" y="305.8" font-size="8.6" text-anchor="middle" fill="#222" textLength="20.8" lengthAdjust="spacingAndGlyphs"  stroke="#222" stroke-width="0.16">ALCAM</text>
<line x1="322.4" y1="319.5" x2="322.4" y2="395.0" stroke="#111" stroke-width="1.0" />
<line x1="321.9" y1="394.6" x2="410.5" y2="394.6" stroke="#111" stroke-width="1.0" />
<line x1="320.2" y1="394.6" x2="322.4" y2="394.6" stroke="#111" stroke-width="0.7" />
<line x1="320.2" y1="382.54" x2="322.4" y2="382.54" stroke="#111" stroke-width="0.7" />
<line x1="320.2" y1="370.48" x2="322.4" y2="370.48" stroke="#111" stroke-width="0.7" />
<line x1="320.2" y1="358.42" x2="322.4" y2="358.42" stroke="#111" stroke-width="0.7" />
<line x1="320.2" y1="346.36" x2="322.4" y2="346.36" stroke="#111" stroke-width="0.7" />
<line x1="320.2" y1="334.3" x2="322.4" y2="334.3" stroke="#111" stroke-width="0.7" />
<line x1="320.2" y1="322.24" x2="322.4" y2="322.24" stroke="#111" stroke-width="0.7" />
<text x="316.2" y="336.6" font-size="6.6" text-anchor="end"  stroke="#111" stroke-width="0.16">1</text>
<text x="316.6" y="396.90000000000003" font-size="6.6" text-anchor="end"  stroke="#111" stroke-width="0.16">0</text>
<rect x="336.5" y="334.3" width="10.2" height="60.30000000000001" fill="#2f4b7f" stroke="#1d3569" stroke-width="0.5"/>
<line x1="341.6" y1="326.9" x2="341.6" y2="334.3" stroke="#111" stroke-width="0.85" />
<line x1="340.6" y1="326.9" x2="342.6" y2="326.9" stroke="#111" stroke-width="0.85" />
<circle cx="341.6" cy="330.0" r="0.45" fill="#111"/>
<circle cx="342.6" cy="337.0" r="0.45" fill="#111"/>
<rect x="349.3" y="353.4" width="10.4" height="41.200000000000045" fill="#a30226" stroke="#8c001c" stroke-width="0.5"/>
<line x1="354.5" y1="349.1" x2="354.5" y2="353.4" stroke="#111" stroke-width="0.85" />
<line x1="353.5" y1="349.1" x2="355.5" y2="349.1" stroke="#111" stroke-width="0.85" />
<circle cx="354.5" cy="351.0" r="0.45" fill="#111"/>
<rect x="379.5" y="358.7" width="10.4" height="35.900000000000034" fill="#2f4b7f" stroke="#1d3569" stroke-width="0.5"/>
<line x1="384.7" y1="358.0" x2="384.7" y2="358.7" stroke="#111" stroke-width="0.85" />
<line x1="383.7" y1="358.0" x2="385.7" y2="358.0" stroke="#111" stroke-width="0.85" />
<rect x="392.4" y="374.5" width="10.4" height="20.100000000000023" fill="#a30226" stroke="#8c001c" stroke-width="0.5"/>
<line x1="397.59999999999997" y1="367.1" x2="397.59999999999997" y2="374.5" stroke="#111" stroke-width="0.85" />
<line x1="396.59999999999997" y1="367.1" x2="398.59999999999997" y2="367.1" stroke="#111" stroke-width="0.85" />
<circle cx="397.6" cy="370.0" r="0.45" fill="#111"/>
<circle cx="397.6" cy="379.0" r="0.45" fill="#111"/>
<path d="M341.6,323.40000000000003 L341.6,321.6 L354.5,321.6 L354.5,323.40000000000003" fill="none" stroke="#111" stroke-width="0.95"/>
<text x="348.0" y="320.4" font-size="5.8" text-anchor="middle" textLength="20.2" lengthAdjust="spacingAndGlyphs"  stroke="#111" stroke-width="0.16">p &lt; 0.01</text>
<path d="M384.7,348.6 L384.7,346.8 L397.6,346.8 L397.6,348.6" fill="none" stroke="#111" stroke-width="0.95"/>
<text x="391.2" y="345.5" font-size="5.8" text-anchor="middle" textLength="20.2" lengthAdjust="spacingAndGlyphs"  stroke="#111" stroke-width="0.16">p &lt; 0.01</text>
<text x="297.9" y="356.6" font-size="8.6" text-anchor="middle" fill="#222" textLength="57.6" lengthAdjust="spacingAndGlyphs" transform="rotate(-90 297.9 356.6)"  stroke="#222" stroke-width="0.16">Mean fluorescence</text>
<text x="305.6" y="356.9" font-size="8.6" text-anchor="middle" fill="#222" textLength="26.8" lengthAdjust="spacingAndGlyphs" transform="rotate(-90 305.6 356.9)"  stroke="#222" stroke-width="0.16">intensity</text>
<text x="347.4" y="406.9" font-size="6.6" text-anchor="middle" fill="#222" textLength="29.6" lengthAdjust="spacingAndGlyphs" stroke="#222" stroke-width="0.16">CD34<tspan dy="-2.2" font-size="4">-</tspan><tspan dy="2.2">Flt3</tspan><tspan dy="-2.2" font-size="4">-</tspan></text>
<text x="390.7" y="406.9" font-size="6.6" text-anchor="middle" fill="#222" textLength="10.6" lengthAdjust="spacingAndGlyphs" stroke="#222" stroke-width="0.16">Flt3<tspan dy="-2.2" font-size="4">-</tspan></text>
<text x="368.9" y="417.3" font-size="8.2" text-anchor="middle" fill="#222" textLength="43.6" lengthAdjust="spacingAndGlyphs" stroke="#222" stroke-width="0.16">Lin<tspan dy="-2.8" font-size="5">-</tspan><tspan dy="2.8">Sca1</tspan><tspan dy="-2.8" font-size="6.4">+</tspan><tspan dy="2.8">cKit</tspan><tspan dy="-2.8" font-size="6.4">+</tspan></text>
<rect x="410.6" y="323.0" width="24.0" height="6.8" fill="#2f4b7f" />
<rect x="410.6" y="332.3" width="24.0" height="6.8" fill="#a30226" />
<text x="437.2" y="328.6" font-size="6.0" font-style="italic" fill="#111">Runx1<tspan dy="-2.2" font-size="3.6">+/+</tspan></text>
<text x="437.2" y="337.8" font-size="6.0" font-style="italic" fill="#111">Runx1<tspan dy="-2.2" font-size="3.6">KTAMK/KTAMK</tspan></text>
<text x="289.3" y="438.6" font-size="11.6" font-weight="bold" fill="#000" >F</text>
<text x="293.2" y="453.9" font-size="8.8" fill="#111" textLength="99" lengthAdjust="spacingAndGlyphs" stroke="#111" stroke-width="0.16">CD34<tspan dy="-2.8" font-size="5">-</tspan><tspan dy="2.8">Flt3</tspan><tspan dy="-2.8" font-size="5">-</tspan><tspan dy="2.8">Lin</tspan><tspan dy="-2.8" font-size="5">-</tspan><tspan dy="2.8">Sca1</tspan><tspan dy="-2.8" font-size="6.4">+</tspan><tspan dy="2.8">cKit</tspan><tspan dy="-2.8" font-size="6.4">+</tspan></text>
<rect x="303.1" y="459.2" width="78.09999999999997" height="75.80000000000001" fill="none" stroke="#111" stroke-width="1.25"/>
<line x1="301.70000000000005" y1="532.25" x2="303.1" y2="532.25" stroke="#111" stroke-width="0.65" />
<line x1="301.70000000000005" y1="529.5" x2="303.1" y2="529.5" stroke="#111" stroke-width="0.65" />
<line x1="301.70000000000005" y1="526.75" x2="303.1" y2="526.75" stroke="#111" stroke-width="0.65" />
<line x1="301.70000000000005" y1="524.0" x2="303.1" y2="524.0" stroke="#111" stroke-width="0.65" />
<line x1="300.5" y1="521.25" x2="303.1" y2="521.25" stroke="#111" stroke-width="0.65" />
<line x1="301.70000000000005" y1="518.5" x2="303.1" y2="518.5" stroke="#111" stroke-width="0.65" />
<line x1="301.70000000000005" y1="515.75" x2="303.1" y2="515.75" stroke="#111" stroke-width="0.65" />
<line x1="301.70000000000005" y1="513.0" x2="303.1" y2="513.0" stroke="#111" stroke-width="0.65" />
<line x1="301.70000000000005" y1="510.25" x2="303.1" y2="510.25" stroke="#111" stroke-width="0.65" />
<line x1="300.5" y1="507.5" x2="303.1" y2="507.5" stroke="#111" stroke-width="0.65" />
<line x1="301.70000000000005" y1="504.75" x2="303.1" y2="504.75" stroke="#111" stroke-width="0.65" />
<line x1="301.70000000000005" y1="502.0" x2="303.1" y2="502.0" stroke="#111" stroke-width="0.65" />
<line x1="301.70000000000005" y1="499.25" x2="303.1" y2="499.25" stroke="#111" stroke-width="0.65" />
<line x1="301.70000000000005" y1="496.5" x2="303.1" y2="496.5" stroke="#111" stroke-width="0.65" />
<line x1="300.5" y1="493.75" x2="303.1" y2="493.75" stroke="#111" stroke-width="0.65" />
<line x1="301.70000000000005" y1="491.0" x2="303.1" y2="491.0" stroke="#111" stroke-width="0.65" />
<line x1="301.70000000000005" y1="488.25" x2="303.1" y2="488.25" stroke="#111" stroke-width="0.65" />
<line x1="301.70000000000005" y1="485.5" x2="303.1" y2="485.5" stroke="#111" stroke-width="0.65" />
<line x1="301.70000000000005" y1="482.75" x2="303.1" y2="482.75" stroke="#111" stroke-width="0.65" />
<line x1="300.5" y1="480.0" x2="303.1" y2="480.0" stroke="#111" stroke-width="0.65" />
<line x1="301.70000000000005" y1="477.25" x2="303.1" y2="477.25" stroke="#111" stroke-width="0.65" />
<line x1="301.70000000000005" y1="474.5" x2="303.1" y2="474.5" stroke="#111" stroke-width="0.65" />
<line x1="301.70000000000005" y1="471.75" x2="303.1" y2="471.75" stroke="#111" stroke-width="0.65" />
<line x1="301.70000000000005" y1="469.0" x2="303.1" y2="469.0" stroke="#111" stroke-width="0.65" />
<line x1="300.5" y1="466.25" x2="303.1" y2="466.25" stroke="#111" stroke-width="0.65" />
<line x1="301.70000000000005" y1="463.5" x2="303.1" y2="463.5" stroke="#111" stroke-width="0.65" />
<line x1="301.70000000000005" y1="460.75" x2="303.1" y2="460.75" stroke="#111" stroke-width="0.65" />
<line x1="306.1" y1="535.0" x2="306.1" y2="536.8" stroke="#111" stroke-width="0.5" />
<line x1="310.44085253747465" y1="535.0" x2="310.44085253747465" y2="536.0" stroke="#111" stroke-width="0.5" />
<line x1="312.98008849305756" y1="535.0" x2="312.98008849305756" y2="536.0" stroke="#111" stroke-width="0.5" />
<line x1="314.78170507494923" y1="535.0" x2="314.78170507494923" y2="536.0" stroke="#111" stroke-width="0.5" />
<line x1="316.1791474625254" y1="535.0" x2="316.1791474625254" y2="536.0" stroke="#111" stroke-width="0.5" />
<line x1="317.32094103053214" y1="535.0" x2="317.32094103053214" y2="536.0" stroke="#111" stroke-width="0.5" />
<line x1="318.2863137370056" y1="535.0" x2="318.2863137370056" y2="536.0" stroke="#111" stroke-width="0.5" />
<line x1="319.12255761242386" y1="535.0" x2="319.12255761242386" y2="536.0" stroke="#111" stroke-width="0.5" />
<line x1="319.8601769861151" y1="535.0" x2="319.8601769861151" y2="536.0" stroke="#111" stroke-width="0.5" />
<line x1="320.52000000000004" y1="535.0" x2="320.52000000000004" y2="536.8" stroke="#111" stroke-width="0.5" />
<line x1="324.8608525374746" y1="535.0" x2="324.8608525374746" y2="536.0" stroke="#111" stroke-width="0.5" />
<line x1="327.4000884930575" y1="535.0" x2="327.4000884930575" y2="536.0" stroke="#111" stroke-width="0.5" />
<line x1="329.20170507494925" y1="535.0" x2="329.20170507494925" y2="536.0" stroke="#111" stroke-width="0.5" />
<line x1="330.5991474625254" y1="535.0" x2="330.5991474625254" y2="536.0" stroke="#111" stroke-width="0.5" />
<line x1="331.74094103053216" y1="535.0" x2="331.74094103053216" y2="536.0" stroke="#111" stroke-width="0.5" />
<line x1="332.7063137370056" y1="535.0" x2="332.7063137370056" y2="536.0" stroke="#111" stroke-width="0.5" />
<line x1="333.5425576124238" y1="535.0" x2="333.5425576124238" y2="536.0" stroke="#111" stroke-width="0.5" />
<line x1="334.28017698611507" y1="535.0" x2="334.28017698611507" y2="536.0" stroke="#111" stroke-width="0.5" />
<line x1="334.94" y1="535.0" x2="334.94" y2="536.8" stroke="#111" stroke-width="0.5" />
<line x1="339.28085253747463" y1="535.0" x2="339.28085253747463" y2="536.0" stroke="#111" stroke-width="0.5" />
<line x1="341.82008849305754" y1="535.0" x2="341.82008849305754" y2="536.0" stroke="#111" stroke-width="0.5" />
<line x1="343.6217050749492" y1="535.0" x2="343.6217050749492" y2="536.0" stroke="#111" stroke-width="0.5" />
<line x1="345.0191474625254" y1="535.0" x2="345.0191474625254" y2="536.0" stroke="#111" stroke-width="0.5" />
<line x1="346.1609410305322" y1="535.0" x2="346.1609410305322" y2="536.0" stroke="#111" stroke-width="0.5" />
<line x1="347.1263137370056" y1="535.0" x2="347.1263137370056" y2="536.0" stroke="#111" stroke-width="0.5" />
<line x1="347.96255761242384" y1="535.0" x2="347.96255761242384" y2="536.0" stroke="#111" stroke-width="0.5" />
<line x1="348.7001769861151" y1="535.0" x2="348.7001769861151" y2="536.0" stroke="#111" stroke-width="0.5" />
<line x1="349.36" y1="535.0" x2="349.36" y2="536.8" stroke="#111" stroke-width="0.5" />
<line x1="353.7008525374746" y1="535.0" x2="353.7008525374746" y2="536.0" stroke="#111" stroke-width="0.5" />
<line x1="356.24008849305756" y1="535.0" x2="356.24008849305756" y2="536.0" stroke="#111" stroke-width="0.5" />
<line x1="358.0417050749492" y1="535.0" x2="358.0417050749492" y2="536.0" stroke="#111" stroke-width="0.5" />
<line x1="359.4391474625254" y1="535.0" x2="359.4391474625254" y2="536.0" stroke="#111" stroke-width="0.5" />
<line x1="360.58094103053213" y1="535.0" x2="360.58094103053213" y2="536.0" stroke="#111" stroke-width="0.5" />
<line x1="361.54631373700556" y1="535.0" x2="361.54631373700556" y2="536.0" stroke="#111" stroke-width="0.5" />
<line x1="362.38255761242385" y1="535.0" x2="362.38255761242385" y2="536.0" stroke="#111" stroke-width="0.5" />
<line x1="363.12017698611504" y1="535.0" x2="363.12017698611504" y2="536.0" stroke="#111" stroke-width="0.5" />
<line x1="363.78" y1="535.0" x2="363.78" y2="536.8" stroke="#111" stroke-width="0.5" />
<line x1="368.1208525374746" y1="535.0" x2="368.1208525374746" y2="536.0" stroke="#111" stroke-width="0.5" />
<line x1="370.6600884930575" y1="535.0" x2="370.6600884930575" y2="536.0" stroke="#111" stroke-width="0.5" />
<line x1="372.46170507494924" y1="535.0" x2="372.46170507494924" y2="536.0" stroke="#111" stroke-width="0.5" />
<line x1="373.85914746252536" y1="535.0" x2="373.85914746252536" y2="536.0" stroke="#111" stroke-width="0.5" />
<line x1="375.00094103053215" y1="535.0" x2="375.00094103053215" y2="536.0" stroke="#111" stroke-width="0.5" />
<line x1="375.9663137370056" y1="535.0" x2="375.9663137370056" y2="536.0" stroke="#111" stroke-width="0.5" />
<line x1="376.8025576124238" y1="535.0" x2="376.8025576124238" y2="536.0" stroke="#111" stroke-width="0.5" />
<line x1="377.54017698611506" y1="535.0" x2="377.54017698611506" y2="536.0" stroke="#111" stroke-width="0.5" />
<text x="297.0" y="497.9" font-size="8.8" text-anchor="middle" fill="#222" textLength="61.2" lengthAdjust="spacingAndGlyphs" transform="rotate(-90 297.0 497.9)"  stroke="#222" stroke-width="0.16">Normalized to mode</text>
<text x="308.6" y="467.5" font-size="6.0" font-style="italic" fill="#3a5a9c">Runx1<tspan dy="-2.2" font-size="3.6">+/+</tspan></text>
<text x="308.6" y="477.5" font-size="6.0" font-style="italic" fill="#c8234a">Runx1<tspan dy="-2.2" font-size="3.6">KTAMK/KTAMK</tspan></text>
<path d="M326.2,535.4 L329.6,516.9 L331.9,496.2 L333.5,489.2 L335.4,498.5 L337.7,516.9 L341.2,528.5 L345.8,535.0" fill="none" stroke="#c4c4c4" stroke-width="0.8" stroke-linejoin="round"/>
<path d="M328.5,535.0 L332.6,528.5 L335.4,519.2 L338.2,503.1 L340.5,495.0 L341.8,494.3 L343.5,499.6 L345.3,506.5 L346.9,506.5 L349.2,514.6 L351.5,526.2 L355.0,529.6 L359.6,529.6 L364.2,527.3 L366.5,528.0 L370.0,533.1 L373.5,535.0" fill="none" stroke="#3a5a9c" stroke-width="1.15" stroke-linejoin="round"/>
<path d="M326.2,535.0 L329.6,528.5 L332.6,512.3 L334.9,496.2 L337.7,485.3 L339.5,491.5 L341.2,500.8 L343.5,510.0 L345.8,512.3 L348.1,514.6 L350.4,523.8 L353.8,530.8 L357.3,529.6 L360.8,529.6 L364.2,528.5 L367.7,531.9 L371.2,535.0" fill="none" stroke="#c8234a" stroke-width="1.15" stroke-linejoin="round"/>
<text x="350.4" y="497.0" font-size="6.4" fill="#222" textLength="26.4" lengthAdjust="spacingAndGlyphs" stroke="#222" stroke-width="0.16">Aldefluor<tspan dy="-2.6" font-size="4">high</tspan></text>
<line x1="355.7" y1="500.8" x2="381.2" y2="500.8" stroke="#444" stroke-width="1.2" />
<line x1="355.7" y1="498.8" x2="355.7" y2="502.8" stroke="#444" stroke-width="0.9" />
<line x1="304.4" y1="542.3" x2="379.0" y2="542.3" stroke="#222" stroke-width="1.25" />
<path d="M378.0,540.5 L382.0,542.3 L378.0,544.0999999999999 Z" fill="#222"/>
<text x="342.9" y="553.0" font-size="8.6" text-anchor="middle" fill="#222" textLength="29" lengthAdjust="spacingAndGlyphs"  stroke="#222" stroke-width="0.16">Aldefluor</text>
<text x="343.0" y="563.6" font-size="8.6" text-anchor="middle" fill="#222" textLength="44.4" lengthAdjust="spacingAndGlyphs"  stroke="#222" stroke-width="0.16">(ALDH activity)</text>
<rect x="426.5" y="429.3" width="25.5" height="6.9" fill="#2f4b7f" />
<rect x="426.5" y="439.6" width="25.5" height="6.9" fill="#a30226" />
<text x="455.4" y="435.0" font-size="6.0" font-style="italic" fill="#111">Runx1<tspan dy="-2.2" font-size="3.6">+/+</tspan></text>
<text x="455.4" y="445.0" font-size="6.0" font-style="italic" fill="#111">Runx1<tspan dy="-2.2" font-size="3.6">KTAMK/KTAMK</tspan></text>
<line x1="436.9" y1="460.1" x2="436.9" y2="535.8" stroke="#111" stroke-width="1.0" />
<line x1="436.4" y1="535.4" x2="485.9" y2="535.4" stroke="#111" stroke-width="1.0" />
<line x1="434.6" y1="535.4" x2="436.9" y2="535.4" stroke="#111" stroke-width="0.7" />
<line x1="434.6" y1="524.98" x2="436.9" y2="524.98" stroke="#111" stroke-width="0.7" />
<line x1="434.6" y1="514.56" x2="436.9" y2="514.56" stroke="#111" stroke-width="0.7" />
<line x1="434.6" y1="504.14" x2="436.9" y2="504.14" stroke="#111" stroke-width="0.7" />
<line x1="434.6" y1="493.71999999999997" x2="436.9" y2="493.71999999999997" stroke="#111" stroke-width="0.7" />
<line x1="434.6" y1="483.29999999999995" x2="436.9" y2="483.29999999999995" stroke="#111" stroke-width="0.7" />
<line x1="434.6" y1="472.88" x2="436.9" y2="472.88" stroke="#111" stroke-width="0.7" />
<line x1="434.6" y1="462.46" x2="436.9" y2="462.46" stroke="#111" stroke-width="0.7" />
<text x="430.3" y="537.6999999999999" font-size="6.4" text-anchor="end"  stroke="#111" stroke-width="0.16">0</text>
<text x="430.3" y="485.59999999999997" font-size="6.4" text-anchor="end"  stroke="#111" stroke-width="0.16">10</text>
<text x="422.0" y="465.0" font-size="6.4" fill="#222" textLength="9.2" lengthAdjust="spacingAndGlyphs"  stroke="#222" stroke-width="0.16">(%)</text>
<rect x="450.8" y="475.3" width="9.4" height="60.099999999999966" fill="#2f4b7f" stroke="#1d3569" stroke-width="0.5"/>
<line x1="455.5" y1="466.8" x2="455.5" y2="475.3" stroke="#111" stroke-width="0.85" />
<line x1="454.5" y1="466.8" x2="456.5" y2="466.8" stroke="#111" stroke-width="0.85" />
<circle cx="455.5" cy="470.0" r="0.45" fill="#111"/>
<circle cx="455.5" cy="480.0" r="0.45" fill="#111"/>
<rect x="462.9" y="492.2" width="9.8" height="43.19999999999999" fill="#a30226" stroke="#8c001c" stroke-width="0.5"/>
<line x1="467.79999999999995" y1="486.8" x2="467.79999999999995" y2="492.2" stroke="#111" stroke-width="0.85" />
<line x1="466.79999999999995" y1="486.8" x2="468.79999999999995" y2="486.8" stroke="#111" stroke-width="0.85" />
<circle cx="467.8" cy="489.0" r="0.45" fill="#111"/>
<path d="M455.5,462.6 L455.5,460.8 L467.8,460.8 L467.8,462.6" fill="none" stroke="#111" stroke-width="0.95"/>
<text x="461.5" y="459.2" font-size="5.8" text-anchor="middle" textLength="20.3" lengthAdjust="spacingAndGlyphs"  stroke="#111" stroke-width="0.16">p &lt; 0.05</text>
<text x="417.3" y="497.5" font-size="8.6" text-anchor="middle" transform="rotate(-90 417.3 497.5)" fill="#222" textLength="54" lengthAdjust="spacingAndGlyphs" stroke="#222" stroke-width="0.16">Aldefluor<tspan dy="-3" font-size="5">high</tspan><tspan dy="3"> cells</tspan></text>
<text x="461.6" y="547.2" font-size="7.4" text-anchor="middle" fill="#222" textLength="30.9" lengthAdjust="spacingAndGlyphs" stroke="#222" stroke-width="0.16">CD34<tspan dy="-2.4" font-size="4.4">-</tspan><tspan dy="2.4">Flt3</tspan><tspan dy="-2.4" font-size="4.4">-</tspan></text>
<text x="461.6" y="555.3" font-size="7.4" text-anchor="middle" fill="#222" textLength="40.4" lengthAdjust="spacingAndGlyphs" stroke="#222" stroke-width="0.16">Lin<tspan dy="-2.4" font-size="4.4">-</tspan><tspan dy="2.4">Sca1</tspan><tspan dy="-2.4" font-size="4.4">+</tspan><tspan dy="2.4">cKit</tspan><tspan dy="-2.4" font-size="4.4">+</tspan></text>
<rect x="0.5" y="0.5" width="519" height="572" fill="none" stroke="#000" stroke-width="1.1"/>
</svg>
</body></html>
